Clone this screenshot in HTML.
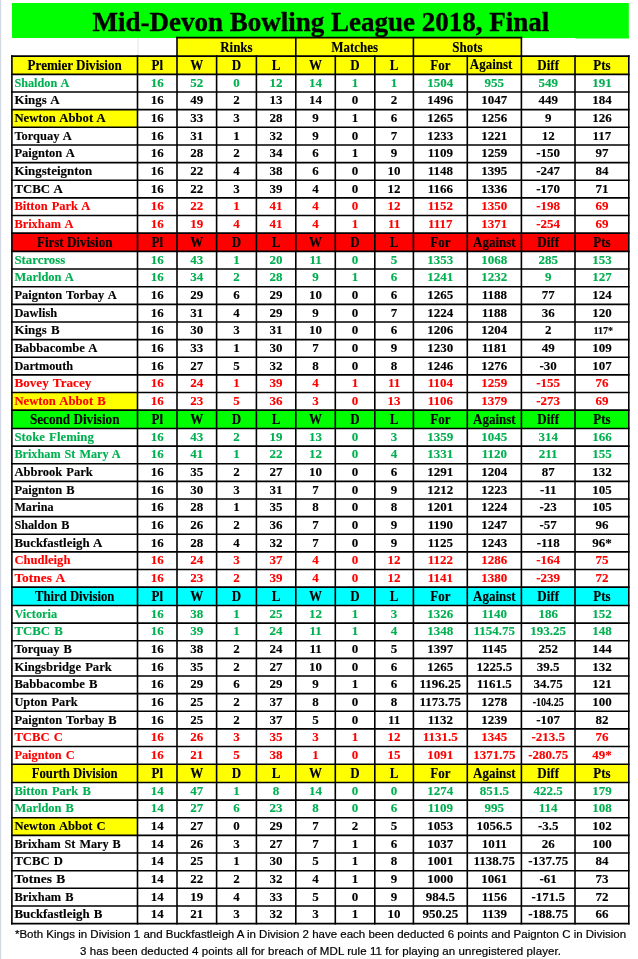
<!DOCTYPE html>
<html lang="en">
<head>
<meta charset="utf-8">
<title>Mid-Devon Bowling League 2018, Final</title>
<style>
html,body{margin:0;padding:0;background:#fff;}
body{width:638px;height:959px;position:relative;overflow:hidden;}
.note{position:absolute;left:12px;width:617px;top:926px;font-family:"Liberation Sans",Arial,sans-serif;font-size:11.5px;line-height:17px;letter-spacing:0;color:#000;text-align:center;white-space:nowrap;-webkit-text-stroke:0.2px #000;}
.note span{display:block;}
.note .l2{letter-spacing:0.07px;}
</style>
</head>
<body>
<svg width="638" height="959" viewBox="0 0 638 959" style="position:absolute;left:0;top:0" font-family="'Liberation Serif', 'Times New Roman', serif" font-weight="bold" font-size="13">
<rect x="0" y="0" width="1.2" height="959" fill="#d3d9e4"/>
<rect x="12" y="3" width="616.8" height="35" fill="#00FF00"/>
<rect x="575.5" y="36" width="53.3" height="2.5" fill="#00FF00"/>
<line x1="138" y1="38.5" x2="138" y2="55" stroke="#dfe4ec" stroke-width="1"/>
<rect x="11.9" y="56.1" width="616.9" height="18.3" fill="#FFFF00"/>
<rect x="11.9" y="109.67" width="125.6" height="17.64" fill="#FFFF00"/>
<rect x="11.9" y="233.12" width="616.9" height="18.3" fill="#FF0000"/>
<rect x="11.9" y="392.51" width="125.6" height="17.64" fill="#FFFF00"/>
<rect x="11.9" y="410.15" width="616.9" height="18.3" fill="#00FF00"/>
<rect x="11.9" y="587.17" width="616.9" height="18.3" fill="#00FFFF"/>
<rect x="11.9" y="764.2" width="616.9" height="18.3" fill="#FFFF00"/>
<rect x="11.9" y="817.77" width="125.6" height="17.64" fill="#FFFF00"/>
<rect x="177" y="37.6" width="118.8" height="18.5" fill="#FFFF00"/>
<rect x="295.8" y="37.6" width="117.6" height="18.5" fill="#FFFF00"/>
<rect x="413.4" y="37.6" width="108" height="18.5" fill="#FFFF00"/>
<g stroke="#000" stroke-width="1.6" stroke-linecap="butt">
<line x1="11.1" y1="56.1" x2="629.6" y2="56.1"/>
<line x1="11.1" y1="74.4" x2="629.6" y2="74.4"/>
<line x1="11.1" y1="92.04" x2="629.6" y2="92.04"/>
<line x1="11.1" y1="109.67" x2="629.6" y2="109.67"/>
<line x1="11.1" y1="127.31" x2="629.6" y2="127.31"/>
<line x1="11.1" y1="144.94" x2="629.6" y2="144.94"/>
<line x1="11.1" y1="162.58" x2="629.6" y2="162.58"/>
<line x1="11.1" y1="180.22" x2="629.6" y2="180.22"/>
<line x1="11.1" y1="197.85" x2="629.6" y2="197.85"/>
<line x1="11.1" y1="215.49" x2="629.6" y2="215.49"/>
<line x1="11.1" y1="233.12" x2="629.6" y2="233.12"/>
<line x1="11.1" y1="251.42" x2="629.6" y2="251.42"/>
<line x1="11.1" y1="269.06" x2="629.6" y2="269.06"/>
<line x1="11.1" y1="286.7" x2="629.6" y2="286.7"/>
<line x1="11.1" y1="304.33" x2="629.6" y2="304.33"/>
<line x1="11.1" y1="321.97" x2="629.6" y2="321.97"/>
<line x1="11.1" y1="339.6" x2="629.6" y2="339.6"/>
<line x1="11.1" y1="357.24" x2="629.6" y2="357.24"/>
<line x1="11.1" y1="374.88" x2="629.6" y2="374.88"/>
<line x1="11.1" y1="392.51" x2="629.6" y2="392.51"/>
<line x1="11.1" y1="410.15" x2="629.6" y2="410.15"/>
<line x1="11.1" y1="428.45" x2="629.6" y2="428.45"/>
<line x1="11.1" y1="446.08" x2="629.6" y2="446.08"/>
<line x1="11.1" y1="463.72" x2="629.6" y2="463.72"/>
<line x1="11.1" y1="481.36" x2="629.6" y2="481.36"/>
<line x1="11.1" y1="498.99" x2="629.6" y2="498.99"/>
<line x1="11.1" y1="516.63" x2="629.6" y2="516.63"/>
<line x1="11.1" y1="534.26" x2="629.6" y2="534.26"/>
<line x1="11.1" y1="551.9" x2="629.6" y2="551.9"/>
<line x1="11.1" y1="569.54" x2="629.6" y2="569.54"/>
<line x1="11.1" y1="587.17" x2="629.6" y2="587.17"/>
<line x1="11.1" y1="605.47" x2="629.6" y2="605.47"/>
<line x1="11.1" y1="623.11" x2="629.6" y2="623.11"/>
<line x1="11.1" y1="640.74" x2="629.6" y2="640.74"/>
<line x1="11.1" y1="658.38" x2="629.6" y2="658.38"/>
<line x1="11.1" y1="676.02" x2="629.6" y2="676.02"/>
<line x1="11.1" y1="693.65" x2="629.6" y2="693.65"/>
<line x1="11.1" y1="711.29" x2="629.6" y2="711.29"/>
<line x1="11.1" y1="728.92" x2="629.6" y2="728.92"/>
<line x1="11.1" y1="746.56" x2="629.6" y2="746.56"/>
<line x1="11.1" y1="764.2" x2="629.6" y2="764.2"/>
<line x1="11.1" y1="782.5" x2="629.6" y2="782.5"/>
<line x1="11.1" y1="800.13" x2="629.6" y2="800.13"/>
<line x1="11.1" y1="817.77" x2="629.6" y2="817.77"/>
<line x1="11.1" y1="835.4" x2="629.6" y2="835.4"/>
<line x1="11.1" y1="853.04" x2="629.6" y2="853.04"/>
<line x1="11.1" y1="870.68" x2="629.6" y2="870.68"/>
<line x1="11.1" y1="888.31" x2="629.6" y2="888.31"/>
<line x1="11.1" y1="905.95" x2="629.6" y2="905.95"/>
<line x1="11.1" y1="923.58" x2="629.6" y2="923.58"/>
<line x1="11.9" y1="55.3" x2="11.9" y2="924.38"/>
<line x1="137.5" y1="55.3" x2="137.5" y2="924.38"/>
<line x1="177" y1="55.3" x2="177" y2="924.38"/>
<line x1="216.6" y1="55.3" x2="216.6" y2="924.38"/>
<line x1="256.4" y1="55.3" x2="256.4" y2="924.38"/>
<line x1="295.8" y1="55.3" x2="295.8" y2="924.38"/>
<line x1="335.3" y1="55.3" x2="335.3" y2="924.38"/>
<line x1="374.8" y1="55.3" x2="374.8" y2="924.38"/>
<line x1="413.4" y1="55.3" x2="413.4" y2="924.38"/>
<line x1="467.3" y1="55.3" x2="467.3" y2="924.38"/>
<line x1="521.4" y1="55.3" x2="521.4" y2="924.38"/>
<line x1="575" y1="55.3" x2="575" y2="924.38"/>
<line x1="628.8" y1="55.3" x2="628.8" y2="924.38"/>
<line x1="176.2" y1="37.6" x2="522.2" y2="37.6"/>
<line x1="177" y1="36.8" x2="177" y2="56.1"/>
<line x1="295.8" y1="36.8" x2="295.8" y2="56.1"/>
<line x1="413.4" y1="36.8" x2="413.4" y2="56.1"/>
<line x1="521.4" y1="36.8" x2="521.4" y2="56.1"/>
</g>
<text x="320.8" y="30.7" text-anchor="middle" font-size="27" stroke="#000" stroke-width="0.35">Mid-Devon Bowling League 2018, Final</text>
<g stroke="#000" stroke-width="0.12">
<text x="74.7" y="70" text-anchor="middle" font-size="13.8" textLength="94.20" lengthAdjust="spacingAndGlyphs">Premier Division</text>
<text x="157.25" y="70" text-anchor="middle" font-size="13.8" textLength="11.56" lengthAdjust="spacingAndGlyphs">Pl</text>
<text x="196.8" y="70" text-anchor="middle" font-size="13.8" textLength="13.00" lengthAdjust="spacingAndGlyphs">W</text>
<text x="236.5" y="70" text-anchor="middle" font-size="13.8" textLength="9.39" lengthAdjust="spacingAndGlyphs">D</text>
<text x="276.1" y="70" text-anchor="middle" font-size="13.8" textLength="8.67" lengthAdjust="spacingAndGlyphs">L</text>
<text x="315.55" y="70" text-anchor="middle" font-size="13.8" textLength="13.00" lengthAdjust="spacingAndGlyphs">W</text>
<text x="355.05" y="70" text-anchor="middle" font-size="13.8" textLength="9.39" lengthAdjust="spacingAndGlyphs">D</text>
<text x="394.1" y="70" text-anchor="middle" font-size="13.8" textLength="8.67" lengthAdjust="spacingAndGlyphs">L</text>
<text x="440.35" y="70" text-anchor="middle" font-size="13.8" textLength="20.22" lengthAdjust="spacingAndGlyphs">For</text>
<text x="491.1" y="68.7" text-anchor="middle" font-size="13.8" textLength="42.62" lengthAdjust="spacingAndGlyphs">Against</text>
<text x="548.2" y="70" text-anchor="middle" font-size="13.8" textLength="21.67" lengthAdjust="spacingAndGlyphs">Diff</text>
<text x="601.9" y="70" text-anchor="middle" font-size="13.8" textLength="17.34" lengthAdjust="spacingAndGlyphs">Pts</text>
<text x="14.4" y="86.7" fill="#00B050" stroke="#00B050" font-size="13.3" textLength="55.00" lengthAdjust="spacingAndGlyphs" word-spacing="1">Shaldon A</text>
<text x="157.25" y="86.7" text-anchor="middle" fill="#00B050" stroke="#00B050" font-size="13.3" textLength="13.00" lengthAdjust="spacingAndGlyphs">16</text>
<text x="196.8" y="86.7" text-anchor="middle" fill="#00B050" stroke="#00B050" font-size="13.3" textLength="13.00" lengthAdjust="spacingAndGlyphs">52</text>
<text x="236.5" y="86.7" text-anchor="middle" fill="#00B050" stroke="#00B050" font-size="13.3" textLength="6.50" lengthAdjust="spacingAndGlyphs">0</text>
<text x="276.1" y="86.7" text-anchor="middle" fill="#00B050" stroke="#00B050" font-size="13.3" textLength="13.00" lengthAdjust="spacingAndGlyphs">12</text>
<text x="315.55" y="86.7" text-anchor="middle" fill="#00B050" stroke="#00B050" font-size="13.3" textLength="13.00" lengthAdjust="spacingAndGlyphs">14</text>
<text x="355.05" y="86.7" text-anchor="middle" fill="#00B050" stroke="#00B050" font-size="13.3" textLength="6.50" lengthAdjust="spacingAndGlyphs">1</text>
<text x="394.1" y="86.7" text-anchor="middle" fill="#00B050" stroke="#00B050" font-size="13.3" textLength="6.50" lengthAdjust="spacingAndGlyphs">1</text>
<text x="440.35" y="86.7" text-anchor="middle" fill="#00B050" stroke="#00B050" font-size="13.3" textLength="26.00" lengthAdjust="spacingAndGlyphs">1504</text>
<text x="494.35" y="86.7" text-anchor="middle" fill="#00B050" stroke="#00B050" font-size="13.3" textLength="19.50" lengthAdjust="spacingAndGlyphs">955</text>
<text x="548.2" y="86.7" text-anchor="middle" fill="#00B050" stroke="#00B050" font-size="13.3" textLength="19.50" lengthAdjust="spacingAndGlyphs">549</text>
<text x="601.9" y="86.7" text-anchor="middle" fill="#00B050" stroke="#00B050" font-size="13.3" textLength="19.50" lengthAdjust="spacingAndGlyphs">191</text>
<text x="14.4" y="104.34" font-size="13.3" textLength="45.20" lengthAdjust="spacingAndGlyphs" word-spacing="1">Kings A</text>
<text x="157.25" y="104.34" text-anchor="middle" font-size="13.3" textLength="13.00" lengthAdjust="spacingAndGlyphs">16</text>
<text x="196.8" y="104.34" text-anchor="middle" font-size="13.3" textLength="13.00" lengthAdjust="spacingAndGlyphs">49</text>
<text x="236.5" y="104.34" text-anchor="middle" font-size="13.3" textLength="6.50" lengthAdjust="spacingAndGlyphs">2</text>
<text x="276.1" y="104.34" text-anchor="middle" font-size="13.3" textLength="13.00" lengthAdjust="spacingAndGlyphs">13</text>
<text x="315.55" y="104.34" text-anchor="middle" font-size="13.3" textLength="13.00" lengthAdjust="spacingAndGlyphs">14</text>
<text x="355.05" y="104.34" text-anchor="middle" font-size="13.3" textLength="6.50" lengthAdjust="spacingAndGlyphs">0</text>
<text x="394.1" y="104.34" text-anchor="middle" font-size="13.3" textLength="6.50" lengthAdjust="spacingAndGlyphs">2</text>
<text x="440.35" y="104.34" text-anchor="middle" font-size="13.3" textLength="26.00" lengthAdjust="spacingAndGlyphs">1496</text>
<text x="494.35" y="104.34" text-anchor="middle" font-size="13.3" textLength="26.00" lengthAdjust="spacingAndGlyphs">1047</text>
<text x="548.2" y="104.34" text-anchor="middle" font-size="13.3" textLength="19.50" lengthAdjust="spacingAndGlyphs">449</text>
<text x="601.9" y="104.34" text-anchor="middle" font-size="13.3" textLength="19.50" lengthAdjust="spacingAndGlyphs">184</text>
<text x="14.4" y="121.97" font-size="13.3" textLength="91.30" lengthAdjust="spacingAndGlyphs" word-spacing="1">Newton Abbot A</text>
<text x="157.25" y="121.97" text-anchor="middle" font-size="13.3" textLength="13.00" lengthAdjust="spacingAndGlyphs">16</text>
<text x="196.8" y="121.97" text-anchor="middle" font-size="13.3" textLength="13.00" lengthAdjust="spacingAndGlyphs">33</text>
<text x="236.5" y="121.97" text-anchor="middle" font-size="13.3" textLength="6.50" lengthAdjust="spacingAndGlyphs">3</text>
<text x="276.1" y="121.97" text-anchor="middle" font-size="13.3" textLength="13.00" lengthAdjust="spacingAndGlyphs">28</text>
<text x="315.55" y="121.97" text-anchor="middle" font-size="13.3" textLength="6.50" lengthAdjust="spacingAndGlyphs">9</text>
<text x="355.05" y="121.97" text-anchor="middle" font-size="13.3" textLength="6.50" lengthAdjust="spacingAndGlyphs">1</text>
<text x="394.1" y="121.97" text-anchor="middle" font-size="13.3" textLength="6.50" lengthAdjust="spacingAndGlyphs">6</text>
<text x="440.35" y="121.97" text-anchor="middle" font-size="13.3" textLength="26.00" lengthAdjust="spacingAndGlyphs">1265</text>
<text x="494.35" y="121.97" text-anchor="middle" font-size="13.3" textLength="26.00" lengthAdjust="spacingAndGlyphs">1256</text>
<text x="548.2" y="121.97" text-anchor="middle" font-size="13.3" textLength="6.50" lengthAdjust="spacingAndGlyphs">9</text>
<text x="601.9" y="121.97" text-anchor="middle" font-size="13.3" textLength="19.50" lengthAdjust="spacingAndGlyphs">126</text>
<text x="14.4" y="139.61" font-size="13.3" textLength="57.40" lengthAdjust="spacingAndGlyphs" word-spacing="1">Torquay A</text>
<text x="157.25" y="139.61" text-anchor="middle" font-size="13.3" textLength="13.00" lengthAdjust="spacingAndGlyphs">16</text>
<text x="196.8" y="139.61" text-anchor="middle" font-size="13.3" textLength="13.00" lengthAdjust="spacingAndGlyphs">31</text>
<text x="236.5" y="139.61" text-anchor="middle" font-size="13.3" textLength="6.50" lengthAdjust="spacingAndGlyphs">1</text>
<text x="276.1" y="139.61" text-anchor="middle" font-size="13.3" textLength="13.00" lengthAdjust="spacingAndGlyphs">32</text>
<text x="315.55" y="139.61" text-anchor="middle" font-size="13.3" textLength="6.50" lengthAdjust="spacingAndGlyphs">9</text>
<text x="355.05" y="139.61" text-anchor="middle" font-size="13.3" textLength="6.50" lengthAdjust="spacingAndGlyphs">0</text>
<text x="394.1" y="139.61" text-anchor="middle" font-size="13.3" textLength="6.50" lengthAdjust="spacingAndGlyphs">7</text>
<text x="440.35" y="139.61" text-anchor="middle" font-size="13.3" textLength="26.00" lengthAdjust="spacingAndGlyphs">1233</text>
<text x="494.35" y="139.61" text-anchor="middle" font-size="13.3" textLength="26.00" lengthAdjust="spacingAndGlyphs">1221</text>
<text x="548.2" y="139.61" text-anchor="middle" font-size="13.3" textLength="13.00" lengthAdjust="spacingAndGlyphs">12</text>
<text x="601.9" y="139.61" text-anchor="middle" font-size="13.3" textLength="18.80" lengthAdjust="spacingAndGlyphs">117</text>
<text x="14.4" y="157.24" font-size="13.3" textLength="60.30" lengthAdjust="spacingAndGlyphs" word-spacing="1">Paignton A</text>
<text x="157.25" y="157.24" text-anchor="middle" font-size="13.3" textLength="13.00" lengthAdjust="spacingAndGlyphs">16</text>
<text x="196.8" y="157.24" text-anchor="middle" font-size="13.3" textLength="13.00" lengthAdjust="spacingAndGlyphs">28</text>
<text x="236.5" y="157.24" text-anchor="middle" font-size="13.3" textLength="6.50" lengthAdjust="spacingAndGlyphs">2</text>
<text x="276.1" y="157.24" text-anchor="middle" font-size="13.3" textLength="13.00" lengthAdjust="spacingAndGlyphs">34</text>
<text x="315.55" y="157.24" text-anchor="middle" font-size="13.3" textLength="6.50" lengthAdjust="spacingAndGlyphs">6</text>
<text x="355.05" y="157.24" text-anchor="middle" font-size="13.3" textLength="6.50" lengthAdjust="spacingAndGlyphs">1</text>
<text x="394.1" y="157.24" text-anchor="middle" font-size="13.3" textLength="6.50" lengthAdjust="spacingAndGlyphs">9</text>
<text x="440.35" y="157.24" text-anchor="middle" font-size="13.3" textLength="25.30" lengthAdjust="spacingAndGlyphs">1109</text>
<text x="494.35" y="157.24" text-anchor="middle" font-size="13.3" textLength="26.00" lengthAdjust="spacingAndGlyphs">1259</text>
<text x="548.2" y="157.24" text-anchor="middle" font-size="13.3" textLength="23.84" lengthAdjust="spacingAndGlyphs">-150</text>
<text x="601.9" y="157.24" text-anchor="middle" font-size="13.3" textLength="13.00" lengthAdjust="spacingAndGlyphs">97</text>
<text x="14.4" y="174.88" font-size="13.3" textLength="77.80" lengthAdjust="spacingAndGlyphs" word-spacing="1">Kingsteignton</text>
<text x="157.25" y="174.88" text-anchor="middle" font-size="13.3" textLength="13.00" lengthAdjust="spacingAndGlyphs">16</text>
<text x="196.8" y="174.88" text-anchor="middle" font-size="13.3" textLength="13.00" lengthAdjust="spacingAndGlyphs">22</text>
<text x="236.5" y="174.88" text-anchor="middle" font-size="13.3" textLength="6.50" lengthAdjust="spacingAndGlyphs">4</text>
<text x="276.1" y="174.88" text-anchor="middle" font-size="13.3" textLength="13.00" lengthAdjust="spacingAndGlyphs">38</text>
<text x="315.55" y="174.88" text-anchor="middle" font-size="13.3" textLength="6.50" lengthAdjust="spacingAndGlyphs">6</text>
<text x="355.05" y="174.88" text-anchor="middle" font-size="13.3" textLength="6.50" lengthAdjust="spacingAndGlyphs">0</text>
<text x="394.1" y="174.88" text-anchor="middle" font-size="13.3" textLength="13.00" lengthAdjust="spacingAndGlyphs">10</text>
<text x="440.35" y="174.88" text-anchor="middle" font-size="13.3" textLength="25.30" lengthAdjust="spacingAndGlyphs">1148</text>
<text x="494.35" y="174.88" text-anchor="middle" font-size="13.3" textLength="26.00" lengthAdjust="spacingAndGlyphs">1395</text>
<text x="548.2" y="174.88" text-anchor="middle" font-size="13.3" textLength="23.84" lengthAdjust="spacingAndGlyphs">-247</text>
<text x="601.9" y="174.88" text-anchor="middle" font-size="13.3" textLength="13.00" lengthAdjust="spacingAndGlyphs">84</text>
<text x="14.4" y="192.52" font-size="13.3" textLength="48.50" lengthAdjust="spacingAndGlyphs" word-spacing="1">TCBC A</text>
<text x="157.25" y="192.52" text-anchor="middle" font-size="13.3" textLength="13.00" lengthAdjust="spacingAndGlyphs">16</text>
<text x="196.8" y="192.52" text-anchor="middle" font-size="13.3" textLength="13.00" lengthAdjust="spacingAndGlyphs">22</text>
<text x="236.5" y="192.52" text-anchor="middle" font-size="13.3" textLength="6.50" lengthAdjust="spacingAndGlyphs">3</text>
<text x="276.1" y="192.52" text-anchor="middle" font-size="13.3" textLength="13.00" lengthAdjust="spacingAndGlyphs">39</text>
<text x="315.55" y="192.52" text-anchor="middle" font-size="13.3" textLength="6.50" lengthAdjust="spacingAndGlyphs">4</text>
<text x="355.05" y="192.52" text-anchor="middle" font-size="13.3" textLength="6.50" lengthAdjust="spacingAndGlyphs">0</text>
<text x="394.1" y="192.52" text-anchor="middle" font-size="13.3" textLength="13.00" lengthAdjust="spacingAndGlyphs">12</text>
<text x="440.35" y="192.52" text-anchor="middle" font-size="13.3" textLength="25.30" lengthAdjust="spacingAndGlyphs">1166</text>
<text x="494.35" y="192.52" text-anchor="middle" font-size="13.3" textLength="26.00" lengthAdjust="spacingAndGlyphs">1336</text>
<text x="548.2" y="192.52" text-anchor="middle" font-size="13.3" textLength="23.84" lengthAdjust="spacingAndGlyphs">-170</text>
<text x="601.9" y="192.52" text-anchor="middle" font-size="13.3" textLength="13.00" lengthAdjust="spacingAndGlyphs">71</text>
<text x="14.4" y="210.15" fill="#FF0000" stroke="#FF0000" font-size="13.3" textLength="76.00" lengthAdjust="spacingAndGlyphs" word-spacing="1">Bitton Park A</text>
<text x="157.25" y="210.15" text-anchor="middle" fill="#FF0000" stroke="#FF0000" font-size="13.3" textLength="13.00" lengthAdjust="spacingAndGlyphs">16</text>
<text x="196.8" y="210.15" text-anchor="middle" fill="#FF0000" stroke="#FF0000" font-size="13.3" textLength="13.00" lengthAdjust="spacingAndGlyphs">22</text>
<text x="236.5" y="210.15" text-anchor="middle" fill="#FF0000" stroke="#FF0000" font-size="13.3" textLength="6.50" lengthAdjust="spacingAndGlyphs">1</text>
<text x="276.1" y="210.15" text-anchor="middle" fill="#FF0000" stroke="#FF0000" font-size="13.3" textLength="13.00" lengthAdjust="spacingAndGlyphs">41</text>
<text x="315.55" y="210.15" text-anchor="middle" fill="#FF0000" stroke="#FF0000" font-size="13.3" textLength="6.50" lengthAdjust="spacingAndGlyphs">4</text>
<text x="355.05" y="210.15" text-anchor="middle" fill="#FF0000" stroke="#FF0000" font-size="13.3" textLength="6.50" lengthAdjust="spacingAndGlyphs">0</text>
<text x="394.1" y="210.15" text-anchor="middle" fill="#FF0000" stroke="#FF0000" font-size="13.3" textLength="13.00" lengthAdjust="spacingAndGlyphs">12</text>
<text x="440.35" y="210.15" text-anchor="middle" fill="#FF0000" stroke="#FF0000" font-size="13.3" textLength="25.30" lengthAdjust="spacingAndGlyphs">1152</text>
<text x="494.35" y="210.15" text-anchor="middle" fill="#FF0000" stroke="#FF0000" font-size="13.3" textLength="26.00" lengthAdjust="spacingAndGlyphs">1350</text>
<text x="548.2" y="210.15" text-anchor="middle" fill="#FF0000" stroke="#FF0000" font-size="13.3" textLength="23.84" lengthAdjust="spacingAndGlyphs">-198</text>
<text x="601.9" y="210.15" text-anchor="middle" fill="#FF0000" stroke="#FF0000" font-size="13.3" textLength="13.00" lengthAdjust="spacingAndGlyphs">69</text>
<text x="14.4" y="227.79" fill="#FF0000" stroke="#FF0000" font-size="13.3" textLength="59.10" lengthAdjust="spacingAndGlyphs" word-spacing="1">Brixham A</text>
<text x="157.25" y="227.79" text-anchor="middle" fill="#FF0000" stroke="#FF0000" font-size="13.3" textLength="13.00" lengthAdjust="spacingAndGlyphs">16</text>
<text x="196.8" y="227.79" text-anchor="middle" fill="#FF0000" stroke="#FF0000" font-size="13.3" textLength="13.00" lengthAdjust="spacingAndGlyphs">19</text>
<text x="236.5" y="227.79" text-anchor="middle" fill="#FF0000" stroke="#FF0000" font-size="13.3" textLength="6.50" lengthAdjust="spacingAndGlyphs">4</text>
<text x="276.1" y="227.79" text-anchor="middle" fill="#FF0000" stroke="#FF0000" font-size="13.3" textLength="13.00" lengthAdjust="spacingAndGlyphs">41</text>
<text x="315.55" y="227.79" text-anchor="middle" fill="#FF0000" stroke="#FF0000" font-size="13.3" textLength="6.50" lengthAdjust="spacingAndGlyphs">4</text>
<text x="355.05" y="227.79" text-anchor="middle" fill="#FF0000" stroke="#FF0000" font-size="13.3" textLength="6.50" lengthAdjust="spacingAndGlyphs">1</text>
<text x="394.1" y="227.79" text-anchor="middle" fill="#FF0000" stroke="#FF0000" font-size="13.3" textLength="12.30" lengthAdjust="spacingAndGlyphs">11</text>
<text x="440.35" y="227.79" text-anchor="middle" fill="#FF0000" stroke="#FF0000" font-size="13.3" textLength="24.58" lengthAdjust="spacingAndGlyphs">1117</text>
<text x="494.35" y="227.79" text-anchor="middle" fill="#FF0000" stroke="#FF0000" font-size="13.3" textLength="26.00" lengthAdjust="spacingAndGlyphs">1371</text>
<text x="548.2" y="227.79" text-anchor="middle" fill="#FF0000" stroke="#FF0000" font-size="13.3" textLength="23.84" lengthAdjust="spacingAndGlyphs">-254</text>
<text x="601.9" y="227.79" text-anchor="middle" fill="#FF0000" stroke="#FF0000" font-size="13.3" textLength="13.00" lengthAdjust="spacingAndGlyphs">69</text>
<text x="74.7" y="247.02" text-anchor="middle" font-size="13.8" textLength="75.40" lengthAdjust="spacingAndGlyphs">First Division</text>
<text x="157.25" y="247.02" text-anchor="middle" font-size="13.8" textLength="11.56" lengthAdjust="spacingAndGlyphs">Pl</text>
<text x="196.8" y="247.02" text-anchor="middle" font-size="13.8" textLength="13.00" lengthAdjust="spacingAndGlyphs">W</text>
<text x="236.5" y="247.02" text-anchor="middle" font-size="13.8" textLength="9.39" lengthAdjust="spacingAndGlyphs">D</text>
<text x="276.1" y="247.02" text-anchor="middle" font-size="13.8" textLength="8.67" lengthAdjust="spacingAndGlyphs">L</text>
<text x="315.55" y="247.02" text-anchor="middle" font-size="13.8" textLength="13.00" lengthAdjust="spacingAndGlyphs">W</text>
<text x="355.05" y="247.02" text-anchor="middle" font-size="13.8" textLength="9.39" lengthAdjust="spacingAndGlyphs">D</text>
<text x="394.1" y="247.02" text-anchor="middle" font-size="13.8" textLength="8.67" lengthAdjust="spacingAndGlyphs">L</text>
<text x="440.35" y="247.02" text-anchor="middle" font-size="13.8" textLength="20.22" lengthAdjust="spacingAndGlyphs">For</text>
<text x="494.35" y="247.02" text-anchor="middle" font-size="13.8" textLength="42.62" lengthAdjust="spacingAndGlyphs">Against</text>
<text x="548.2" y="247.02" text-anchor="middle" font-size="13.8" textLength="21.67" lengthAdjust="spacingAndGlyphs">Diff</text>
<text x="601.9" y="247.02" text-anchor="middle" font-size="13.8" textLength="17.34" lengthAdjust="spacingAndGlyphs">Pts</text>
<text x="14.4" y="263.72" fill="#00B050" stroke="#00B050" font-size="13.3" textLength="50.90" lengthAdjust="spacingAndGlyphs" word-spacing="1">Starcross</text>
<text x="157.25" y="263.72" text-anchor="middle" fill="#00B050" stroke="#00B050" font-size="13.3" textLength="13.00" lengthAdjust="spacingAndGlyphs">16</text>
<text x="196.8" y="263.72" text-anchor="middle" fill="#00B050" stroke="#00B050" font-size="13.3" textLength="13.00" lengthAdjust="spacingAndGlyphs">43</text>
<text x="236.5" y="263.72" text-anchor="middle" fill="#00B050" stroke="#00B050" font-size="13.3" textLength="6.50" lengthAdjust="spacingAndGlyphs">1</text>
<text x="276.1" y="263.72" text-anchor="middle" fill="#00B050" stroke="#00B050" font-size="13.3" textLength="13.00" lengthAdjust="spacingAndGlyphs">20</text>
<text x="315.55" y="263.72" text-anchor="middle" fill="#00B050" stroke="#00B050" font-size="13.3" textLength="12.30" lengthAdjust="spacingAndGlyphs">11</text>
<text x="355.05" y="263.72" text-anchor="middle" fill="#00B050" stroke="#00B050" font-size="13.3" textLength="6.50" lengthAdjust="spacingAndGlyphs">0</text>
<text x="394.1" y="263.72" text-anchor="middle" fill="#00B050" stroke="#00B050" font-size="13.3" textLength="6.50" lengthAdjust="spacingAndGlyphs">5</text>
<text x="440.35" y="263.72" text-anchor="middle" fill="#00B050" stroke="#00B050" font-size="13.3" textLength="26.00" lengthAdjust="spacingAndGlyphs">1353</text>
<text x="494.35" y="263.72" text-anchor="middle" fill="#00B050" stroke="#00B050" font-size="13.3" textLength="26.00" lengthAdjust="spacingAndGlyphs">1068</text>
<text x="548.2" y="263.72" text-anchor="middle" fill="#00B050" stroke="#00B050" font-size="13.3" textLength="19.50" lengthAdjust="spacingAndGlyphs">285</text>
<text x="601.9" y="263.72" text-anchor="middle" fill="#00B050" stroke="#00B050" font-size="13.3" textLength="19.50" lengthAdjust="spacingAndGlyphs">153</text>
<text x="14.4" y="281.36" fill="#00B050" stroke="#00B050" font-size="13.3" textLength="59.50" lengthAdjust="spacingAndGlyphs" word-spacing="1">Marldon A</text>
<text x="157.25" y="281.36" text-anchor="middle" fill="#00B050" stroke="#00B050" font-size="13.3" textLength="13.00" lengthAdjust="spacingAndGlyphs">16</text>
<text x="196.8" y="281.36" text-anchor="middle" fill="#00B050" stroke="#00B050" font-size="13.3" textLength="13.00" lengthAdjust="spacingAndGlyphs">34</text>
<text x="236.5" y="281.36" text-anchor="middle" fill="#00B050" stroke="#00B050" font-size="13.3" textLength="6.50" lengthAdjust="spacingAndGlyphs">2</text>
<text x="276.1" y="281.36" text-anchor="middle" fill="#00B050" stroke="#00B050" font-size="13.3" textLength="13.00" lengthAdjust="spacingAndGlyphs">28</text>
<text x="315.55" y="281.36" text-anchor="middle" fill="#00B050" stroke="#00B050" font-size="13.3" textLength="6.50" lengthAdjust="spacingAndGlyphs">9</text>
<text x="355.05" y="281.36" text-anchor="middle" fill="#00B050" stroke="#00B050" font-size="13.3" textLength="6.50" lengthAdjust="spacingAndGlyphs">1</text>
<text x="394.1" y="281.36" text-anchor="middle" fill="#00B050" stroke="#00B050" font-size="13.3" textLength="6.50" lengthAdjust="spacingAndGlyphs">6</text>
<text x="440.35" y="281.36" text-anchor="middle" fill="#00B050" stroke="#00B050" font-size="13.3" textLength="26.00" lengthAdjust="spacingAndGlyphs">1241</text>
<text x="494.35" y="281.36" text-anchor="middle" fill="#00B050" stroke="#00B050" font-size="13.3" textLength="26.00" lengthAdjust="spacingAndGlyphs">1232</text>
<text x="548.2" y="281.36" text-anchor="middle" fill="#00B050" stroke="#00B050" font-size="13.3" textLength="6.50" lengthAdjust="spacingAndGlyphs">9</text>
<text x="601.9" y="281.36" text-anchor="middle" fill="#00B050" stroke="#00B050" font-size="13.3" textLength="19.50" lengthAdjust="spacingAndGlyphs">127</text>
<text x="14.4" y="299" font-size="13.3" textLength="102.30" lengthAdjust="spacingAndGlyphs" word-spacing="1">Paignton Torbay A</text>
<text x="157.25" y="299" text-anchor="middle" font-size="13.3" textLength="13.00" lengthAdjust="spacingAndGlyphs">16</text>
<text x="196.8" y="299" text-anchor="middle" font-size="13.3" textLength="13.00" lengthAdjust="spacingAndGlyphs">29</text>
<text x="236.5" y="299" text-anchor="middle" font-size="13.3" textLength="6.50" lengthAdjust="spacingAndGlyphs">6</text>
<text x="276.1" y="299" text-anchor="middle" font-size="13.3" textLength="13.00" lengthAdjust="spacingAndGlyphs">29</text>
<text x="315.55" y="299" text-anchor="middle" font-size="13.3" textLength="13.00" lengthAdjust="spacingAndGlyphs">10</text>
<text x="355.05" y="299" text-anchor="middle" font-size="13.3" textLength="6.50" lengthAdjust="spacingAndGlyphs">0</text>
<text x="394.1" y="299" text-anchor="middle" font-size="13.3" textLength="6.50" lengthAdjust="spacingAndGlyphs">6</text>
<text x="440.35" y="299" text-anchor="middle" font-size="13.3" textLength="26.00" lengthAdjust="spacingAndGlyphs">1265</text>
<text x="494.35" y="299" text-anchor="middle" font-size="13.3" textLength="25.30" lengthAdjust="spacingAndGlyphs">1188</text>
<text x="548.2" y="299" text-anchor="middle" font-size="13.3" textLength="13.00" lengthAdjust="spacingAndGlyphs">77</text>
<text x="601.9" y="299" text-anchor="middle" font-size="13.3" textLength="19.50" lengthAdjust="spacingAndGlyphs">124</text>
<text x="14.4" y="316.63" font-size="13.3" textLength="42.80" lengthAdjust="spacingAndGlyphs" word-spacing="1">Dawlish</text>
<text x="157.25" y="316.63" text-anchor="middle" font-size="13.3" textLength="13.00" lengthAdjust="spacingAndGlyphs">16</text>
<text x="196.8" y="316.63" text-anchor="middle" font-size="13.3" textLength="13.00" lengthAdjust="spacingAndGlyphs">31</text>
<text x="236.5" y="316.63" text-anchor="middle" font-size="13.3" textLength="6.50" lengthAdjust="spacingAndGlyphs">4</text>
<text x="276.1" y="316.63" text-anchor="middle" font-size="13.3" textLength="13.00" lengthAdjust="spacingAndGlyphs">29</text>
<text x="315.55" y="316.63" text-anchor="middle" font-size="13.3" textLength="6.50" lengthAdjust="spacingAndGlyphs">9</text>
<text x="355.05" y="316.63" text-anchor="middle" font-size="13.3" textLength="6.50" lengthAdjust="spacingAndGlyphs">0</text>
<text x="394.1" y="316.63" text-anchor="middle" font-size="13.3" textLength="6.50" lengthAdjust="spacingAndGlyphs">7</text>
<text x="440.35" y="316.63" text-anchor="middle" font-size="13.3" textLength="26.00" lengthAdjust="spacingAndGlyphs">1224</text>
<text x="494.35" y="316.63" text-anchor="middle" font-size="13.3" textLength="25.30" lengthAdjust="spacingAndGlyphs">1188</text>
<text x="548.2" y="316.63" text-anchor="middle" font-size="13.3" textLength="13.00" lengthAdjust="spacingAndGlyphs">36</text>
<text x="601.9" y="316.63" text-anchor="middle" font-size="13.3" textLength="19.50" lengthAdjust="spacingAndGlyphs">120</text>
<text x="14.4" y="334.27" font-size="13.3" textLength="45.20" lengthAdjust="spacingAndGlyphs" word-spacing="1">Kings B</text>
<text x="157.25" y="334.27" text-anchor="middle" font-size="13.3" textLength="13.00" lengthAdjust="spacingAndGlyphs">16</text>
<text x="196.8" y="334.27" text-anchor="middle" font-size="13.3" textLength="13.00" lengthAdjust="spacingAndGlyphs">30</text>
<text x="236.5" y="334.27" text-anchor="middle" font-size="13.3" textLength="6.50" lengthAdjust="spacingAndGlyphs">3</text>
<text x="276.1" y="334.27" text-anchor="middle" font-size="13.3" textLength="13.00" lengthAdjust="spacingAndGlyphs">31</text>
<text x="315.55" y="334.27" text-anchor="middle" font-size="13.3" textLength="13.00" lengthAdjust="spacingAndGlyphs">10</text>
<text x="355.05" y="334.27" text-anchor="middle" font-size="13.3" textLength="6.50" lengthAdjust="spacingAndGlyphs">0</text>
<text x="394.1" y="334.27" text-anchor="middle" font-size="13.3" textLength="6.50" lengthAdjust="spacingAndGlyphs">6</text>
<text x="440.35" y="334.27" text-anchor="middle" font-size="13.3" textLength="26.00" lengthAdjust="spacingAndGlyphs">1206</text>
<text x="494.35" y="334.27" text-anchor="middle" font-size="13.3" textLength="26.00" lengthAdjust="spacingAndGlyphs">1204</text>
<text x="548.2" y="334.27" text-anchor="middle" font-size="13.3" textLength="6.50" lengthAdjust="spacingAndGlyphs">2</text>
<text x="603.3" y="334.27" text-anchor="middle" font-size="10" textLength="19.6" lengthAdjust="spacingAndGlyphs">117*</text>
<text x="14.4" y="351.9" font-size="13.3" textLength="83.10" lengthAdjust="spacingAndGlyphs" word-spacing="1">Babbacombe A</text>
<text x="157.25" y="351.9" text-anchor="middle" font-size="13.3" textLength="13.00" lengthAdjust="spacingAndGlyphs">16</text>
<text x="196.8" y="351.9" text-anchor="middle" font-size="13.3" textLength="13.00" lengthAdjust="spacingAndGlyphs">33</text>
<text x="236.5" y="351.9" text-anchor="middle" font-size="13.3" textLength="6.50" lengthAdjust="spacingAndGlyphs">1</text>
<text x="276.1" y="351.9" text-anchor="middle" font-size="13.3" textLength="13.00" lengthAdjust="spacingAndGlyphs">30</text>
<text x="315.55" y="351.9" text-anchor="middle" font-size="13.3" textLength="6.50" lengthAdjust="spacingAndGlyphs">7</text>
<text x="355.05" y="351.9" text-anchor="middle" font-size="13.3" textLength="6.50" lengthAdjust="spacingAndGlyphs">0</text>
<text x="394.1" y="351.9" text-anchor="middle" font-size="13.3" textLength="6.50" lengthAdjust="spacingAndGlyphs">9</text>
<text x="440.35" y="351.9" text-anchor="middle" font-size="13.3" textLength="26.00" lengthAdjust="spacingAndGlyphs">1230</text>
<text x="494.35" y="351.9" text-anchor="middle" font-size="13.3" textLength="25.30" lengthAdjust="spacingAndGlyphs">1181</text>
<text x="548.2" y="351.9" text-anchor="middle" font-size="13.3" textLength="13.00" lengthAdjust="spacingAndGlyphs">49</text>
<text x="601.9" y="351.9" text-anchor="middle" font-size="13.3" textLength="19.50" lengthAdjust="spacingAndGlyphs">109</text>
<text x="14.4" y="369.54" font-size="13.3" textLength="58.70" lengthAdjust="spacingAndGlyphs" word-spacing="1">Dartmouth</text>
<text x="157.25" y="369.54" text-anchor="middle" font-size="13.3" textLength="13.00" lengthAdjust="spacingAndGlyphs">16</text>
<text x="196.8" y="369.54" text-anchor="middle" font-size="13.3" textLength="13.00" lengthAdjust="spacingAndGlyphs">27</text>
<text x="236.5" y="369.54" text-anchor="middle" font-size="13.3" textLength="6.50" lengthAdjust="spacingAndGlyphs">5</text>
<text x="276.1" y="369.54" text-anchor="middle" font-size="13.3" textLength="13.00" lengthAdjust="spacingAndGlyphs">32</text>
<text x="315.55" y="369.54" text-anchor="middle" font-size="13.3" textLength="6.50" lengthAdjust="spacingAndGlyphs">8</text>
<text x="355.05" y="369.54" text-anchor="middle" font-size="13.3" textLength="6.50" lengthAdjust="spacingAndGlyphs">0</text>
<text x="394.1" y="369.54" text-anchor="middle" font-size="13.3" textLength="6.50" lengthAdjust="spacingAndGlyphs">8</text>
<text x="440.35" y="369.54" text-anchor="middle" font-size="13.3" textLength="26.00" lengthAdjust="spacingAndGlyphs">1246</text>
<text x="494.35" y="369.54" text-anchor="middle" font-size="13.3" textLength="26.00" lengthAdjust="spacingAndGlyphs">1276</text>
<text x="548.2" y="369.54" text-anchor="middle" font-size="13.3" textLength="17.34" lengthAdjust="spacingAndGlyphs">-30</text>
<text x="601.9" y="369.54" text-anchor="middle" font-size="13.3" textLength="19.50" lengthAdjust="spacingAndGlyphs">107</text>
<text x="14.4" y="387.18" fill="#FF0000" stroke="#FF0000" font-size="13.3" textLength="77.00" lengthAdjust="spacingAndGlyphs" word-spacing="1">Bovey Tracey</text>
<text x="157.25" y="387.18" text-anchor="middle" fill="#FF0000" stroke="#FF0000" font-size="13.3" textLength="13.00" lengthAdjust="spacingAndGlyphs">16</text>
<text x="196.8" y="387.18" text-anchor="middle" fill="#FF0000" stroke="#FF0000" font-size="13.3" textLength="13.00" lengthAdjust="spacingAndGlyphs">24</text>
<text x="236.5" y="387.18" text-anchor="middle" fill="#FF0000" stroke="#FF0000" font-size="13.3" textLength="6.50" lengthAdjust="spacingAndGlyphs">1</text>
<text x="276.1" y="387.18" text-anchor="middle" fill="#FF0000" stroke="#FF0000" font-size="13.3" textLength="13.00" lengthAdjust="spacingAndGlyphs">39</text>
<text x="315.55" y="387.18" text-anchor="middle" fill="#FF0000" stroke="#FF0000" font-size="13.3" textLength="6.50" lengthAdjust="spacingAndGlyphs">4</text>
<text x="355.05" y="387.18" text-anchor="middle" fill="#FF0000" stroke="#FF0000" font-size="13.3" textLength="6.50" lengthAdjust="spacingAndGlyphs">1</text>
<text x="394.1" y="387.18" text-anchor="middle" fill="#FF0000" stroke="#FF0000" font-size="13.3" textLength="12.30" lengthAdjust="spacingAndGlyphs">11</text>
<text x="440.35" y="387.18" text-anchor="middle" fill="#FF0000" stroke="#FF0000" font-size="13.3" textLength="25.30" lengthAdjust="spacingAndGlyphs">1104</text>
<text x="494.35" y="387.18" text-anchor="middle" fill="#FF0000" stroke="#FF0000" font-size="13.3" textLength="26.00" lengthAdjust="spacingAndGlyphs">1259</text>
<text x="548.2" y="387.18" text-anchor="middle" fill="#FF0000" stroke="#FF0000" font-size="13.3" textLength="23.84" lengthAdjust="spacingAndGlyphs">-155</text>
<text x="601.9" y="387.18" text-anchor="middle" fill="#FF0000" stroke="#FF0000" font-size="13.3" textLength="13.00" lengthAdjust="spacingAndGlyphs">76</text>
<text x="14.4" y="404.81" fill="#FF0000" stroke="#FF0000" font-size="13.3" textLength="91.30" lengthAdjust="spacingAndGlyphs" word-spacing="1">Newton Abbot B</text>
<text x="157.25" y="404.81" text-anchor="middle" fill="#FF0000" stroke="#FF0000" font-size="13.3" textLength="13.00" lengthAdjust="spacingAndGlyphs">16</text>
<text x="196.8" y="404.81" text-anchor="middle" fill="#FF0000" stroke="#FF0000" font-size="13.3" textLength="13.00" lengthAdjust="spacingAndGlyphs">23</text>
<text x="236.5" y="404.81" text-anchor="middle" fill="#FF0000" stroke="#FF0000" font-size="13.3" textLength="6.50" lengthAdjust="spacingAndGlyphs">5</text>
<text x="276.1" y="404.81" text-anchor="middle" fill="#FF0000" stroke="#FF0000" font-size="13.3" textLength="13.00" lengthAdjust="spacingAndGlyphs">36</text>
<text x="315.55" y="404.81" text-anchor="middle" fill="#FF0000" stroke="#FF0000" font-size="13.3" textLength="6.50" lengthAdjust="spacingAndGlyphs">3</text>
<text x="355.05" y="404.81" text-anchor="middle" fill="#FF0000" stroke="#FF0000" font-size="13.3" textLength="6.50" lengthAdjust="spacingAndGlyphs">0</text>
<text x="394.1" y="404.81" text-anchor="middle" fill="#FF0000" stroke="#FF0000" font-size="13.3" textLength="13.00" lengthAdjust="spacingAndGlyphs">13</text>
<text x="440.35" y="404.81" text-anchor="middle" fill="#FF0000" stroke="#FF0000" font-size="13.3" textLength="25.30" lengthAdjust="spacingAndGlyphs">1106</text>
<text x="494.35" y="404.81" text-anchor="middle" fill="#FF0000" stroke="#FF0000" font-size="13.3" textLength="26.00" lengthAdjust="spacingAndGlyphs">1379</text>
<text x="548.2" y="404.81" text-anchor="middle" fill="#FF0000" stroke="#FF0000" font-size="13.3" textLength="23.84" lengthAdjust="spacingAndGlyphs">-273</text>
<text x="601.9" y="404.81" text-anchor="middle" fill="#FF0000" stroke="#FF0000" font-size="13.3" textLength="13.00" lengthAdjust="spacingAndGlyphs">69</text>
<text x="74.7" y="424.05" text-anchor="middle" font-size="13.8" textLength="89.60" lengthAdjust="spacingAndGlyphs">Second Division</text>
<text x="157.25" y="424.05" text-anchor="middle" font-size="13.8" textLength="11.56" lengthAdjust="spacingAndGlyphs">Pl</text>
<text x="196.8" y="424.05" text-anchor="middle" font-size="13.8" textLength="13.00" lengthAdjust="spacingAndGlyphs">W</text>
<text x="236.5" y="424.05" text-anchor="middle" font-size="13.8" textLength="9.39" lengthAdjust="spacingAndGlyphs">D</text>
<text x="276.1" y="424.05" text-anchor="middle" font-size="13.8" textLength="8.67" lengthAdjust="spacingAndGlyphs">L</text>
<text x="315.55" y="424.05" text-anchor="middle" font-size="13.8" textLength="13.00" lengthAdjust="spacingAndGlyphs">W</text>
<text x="355.05" y="424.05" text-anchor="middle" font-size="13.8" textLength="9.39" lengthAdjust="spacingAndGlyphs">D</text>
<text x="394.1" y="424.05" text-anchor="middle" font-size="13.8" textLength="8.67" lengthAdjust="spacingAndGlyphs">L</text>
<text x="440.35" y="424.05" text-anchor="middle" font-size="13.8" textLength="20.22" lengthAdjust="spacingAndGlyphs">For</text>
<text x="494.35" y="424.05" text-anchor="middle" font-size="13.8" textLength="42.62" lengthAdjust="spacingAndGlyphs">Against</text>
<text x="548.2" y="424.05" text-anchor="middle" font-size="13.8" textLength="21.67" lengthAdjust="spacingAndGlyphs">Diff</text>
<text x="601.9" y="424.05" text-anchor="middle" font-size="13.8" textLength="17.34" lengthAdjust="spacingAndGlyphs">Pts</text>
<text x="14.4" y="440.75" fill="#00B050" stroke="#00B050" font-size="13.3" textLength="79.50" lengthAdjust="spacingAndGlyphs" word-spacing="1">Stoke Fleming</text>
<text x="157.25" y="440.75" text-anchor="middle" fill="#00B050" stroke="#00B050" font-size="13.3" textLength="13.00" lengthAdjust="spacingAndGlyphs">16</text>
<text x="196.8" y="440.75" text-anchor="middle" fill="#00B050" stroke="#00B050" font-size="13.3" textLength="13.00" lengthAdjust="spacingAndGlyphs">43</text>
<text x="236.5" y="440.75" text-anchor="middle" fill="#00B050" stroke="#00B050" font-size="13.3" textLength="6.50" lengthAdjust="spacingAndGlyphs">2</text>
<text x="276.1" y="440.75" text-anchor="middle" fill="#00B050" stroke="#00B050" font-size="13.3" textLength="13.00" lengthAdjust="spacingAndGlyphs">19</text>
<text x="315.55" y="440.75" text-anchor="middle" fill="#00B050" stroke="#00B050" font-size="13.3" textLength="13.00" lengthAdjust="spacingAndGlyphs">13</text>
<text x="355.05" y="440.75" text-anchor="middle" fill="#00B050" stroke="#00B050" font-size="13.3" textLength="6.50" lengthAdjust="spacingAndGlyphs">0</text>
<text x="394.1" y="440.75" text-anchor="middle" fill="#00B050" stroke="#00B050" font-size="13.3" textLength="6.50" lengthAdjust="spacingAndGlyphs">3</text>
<text x="440.35" y="440.75" text-anchor="middle" fill="#00B050" stroke="#00B050" font-size="13.3" textLength="26.00" lengthAdjust="spacingAndGlyphs">1359</text>
<text x="494.35" y="440.75" text-anchor="middle" fill="#00B050" stroke="#00B050" font-size="13.3" textLength="26.00" lengthAdjust="spacingAndGlyphs">1045</text>
<text x="548.2" y="440.75" text-anchor="middle" fill="#00B050" stroke="#00B050" font-size="13.3" textLength="19.50" lengthAdjust="spacingAndGlyphs">314</text>
<text x="601.9" y="440.75" text-anchor="middle" fill="#00B050" stroke="#00B050" font-size="13.3" textLength="19.50" lengthAdjust="spacingAndGlyphs">166</text>
<text x="14.4" y="458.38" fill="#00B050" stroke="#00B050" font-size="13.3" textLength="106.30" lengthAdjust="spacingAndGlyphs" word-spacing="1">Brixham St Mary A</text>
<text x="157.25" y="458.38" text-anchor="middle" fill="#00B050" stroke="#00B050" font-size="13.3" textLength="13.00" lengthAdjust="spacingAndGlyphs">16</text>
<text x="196.8" y="458.38" text-anchor="middle" fill="#00B050" stroke="#00B050" font-size="13.3" textLength="13.00" lengthAdjust="spacingAndGlyphs">41</text>
<text x="236.5" y="458.38" text-anchor="middle" fill="#00B050" stroke="#00B050" font-size="13.3" textLength="6.50" lengthAdjust="spacingAndGlyphs">1</text>
<text x="276.1" y="458.38" text-anchor="middle" fill="#00B050" stroke="#00B050" font-size="13.3" textLength="13.00" lengthAdjust="spacingAndGlyphs">22</text>
<text x="315.55" y="458.38" text-anchor="middle" fill="#00B050" stroke="#00B050" font-size="13.3" textLength="13.00" lengthAdjust="spacingAndGlyphs">12</text>
<text x="355.05" y="458.38" text-anchor="middle" fill="#00B050" stroke="#00B050" font-size="13.3" textLength="6.50" lengthAdjust="spacingAndGlyphs">0</text>
<text x="394.1" y="458.38" text-anchor="middle" fill="#00B050" stroke="#00B050" font-size="13.3" textLength="6.50" lengthAdjust="spacingAndGlyphs">4</text>
<text x="440.35" y="458.38" text-anchor="middle" fill="#00B050" stroke="#00B050" font-size="13.3" textLength="26.00" lengthAdjust="spacingAndGlyphs">1331</text>
<text x="494.35" y="458.38" text-anchor="middle" fill="#00B050" stroke="#00B050" font-size="13.3" textLength="25.30" lengthAdjust="spacingAndGlyphs">1120</text>
<text x="548.2" y="458.38" text-anchor="middle" fill="#00B050" stroke="#00B050" font-size="13.3" textLength="18.80" lengthAdjust="spacingAndGlyphs">211</text>
<text x="601.9" y="458.38" text-anchor="middle" fill="#00B050" stroke="#00B050" font-size="13.3" textLength="19.50" lengthAdjust="spacingAndGlyphs">155</text>
<text x="14.4" y="476.02" font-size="13.3" textLength="78.40" lengthAdjust="spacingAndGlyphs" word-spacing="1">Abbrook Park</text>
<text x="157.25" y="476.02" text-anchor="middle" font-size="13.3" textLength="13.00" lengthAdjust="spacingAndGlyphs">16</text>
<text x="196.8" y="476.02" text-anchor="middle" font-size="13.3" textLength="13.00" lengthAdjust="spacingAndGlyphs">35</text>
<text x="236.5" y="476.02" text-anchor="middle" font-size="13.3" textLength="6.50" lengthAdjust="spacingAndGlyphs">2</text>
<text x="276.1" y="476.02" text-anchor="middle" font-size="13.3" textLength="13.00" lengthAdjust="spacingAndGlyphs">27</text>
<text x="315.55" y="476.02" text-anchor="middle" font-size="13.3" textLength="13.00" lengthAdjust="spacingAndGlyphs">10</text>
<text x="355.05" y="476.02" text-anchor="middle" font-size="13.3" textLength="6.50" lengthAdjust="spacingAndGlyphs">0</text>
<text x="394.1" y="476.02" text-anchor="middle" font-size="13.3" textLength="6.50" lengthAdjust="spacingAndGlyphs">6</text>
<text x="440.35" y="476.02" text-anchor="middle" font-size="13.3" textLength="26.00" lengthAdjust="spacingAndGlyphs">1291</text>
<text x="494.35" y="476.02" text-anchor="middle" font-size="13.3" textLength="26.00" lengthAdjust="spacingAndGlyphs">1204</text>
<text x="548.2" y="476.02" text-anchor="middle" font-size="13.3" textLength="13.00" lengthAdjust="spacingAndGlyphs">87</text>
<text x="601.9" y="476.02" text-anchor="middle" font-size="13.3" textLength="19.50" lengthAdjust="spacingAndGlyphs">132</text>
<text x="14.4" y="493.66" font-size="13.3" textLength="60.30" lengthAdjust="spacingAndGlyphs" word-spacing="1">Paignton B</text>
<text x="157.25" y="493.66" text-anchor="middle" font-size="13.3" textLength="13.00" lengthAdjust="spacingAndGlyphs">16</text>
<text x="196.8" y="493.66" text-anchor="middle" font-size="13.3" textLength="13.00" lengthAdjust="spacingAndGlyphs">30</text>
<text x="236.5" y="493.66" text-anchor="middle" font-size="13.3" textLength="6.50" lengthAdjust="spacingAndGlyphs">3</text>
<text x="276.1" y="493.66" text-anchor="middle" font-size="13.3" textLength="13.00" lengthAdjust="spacingAndGlyphs">31</text>
<text x="315.55" y="493.66" text-anchor="middle" font-size="13.3" textLength="6.50" lengthAdjust="spacingAndGlyphs">7</text>
<text x="355.05" y="493.66" text-anchor="middle" font-size="13.3" textLength="6.50" lengthAdjust="spacingAndGlyphs">0</text>
<text x="394.1" y="493.66" text-anchor="middle" font-size="13.3" textLength="6.50" lengthAdjust="spacingAndGlyphs">9</text>
<text x="440.35" y="493.66" text-anchor="middle" font-size="13.3" textLength="26.00" lengthAdjust="spacingAndGlyphs">1212</text>
<text x="494.35" y="493.66" text-anchor="middle" font-size="13.3" textLength="26.00" lengthAdjust="spacingAndGlyphs">1223</text>
<text x="548.2" y="493.66" text-anchor="middle" font-size="13.3" textLength="16.62" lengthAdjust="spacingAndGlyphs">-11</text>
<text x="601.9" y="493.66" text-anchor="middle" font-size="13.3" textLength="19.50" lengthAdjust="spacingAndGlyphs">105</text>
<text x="14.4" y="511.29" font-size="13.3" textLength="39.10" lengthAdjust="spacingAndGlyphs" word-spacing="1">Marina</text>
<text x="157.25" y="511.29" text-anchor="middle" font-size="13.3" textLength="13.00" lengthAdjust="spacingAndGlyphs">16</text>
<text x="196.8" y="511.29" text-anchor="middle" font-size="13.3" textLength="13.00" lengthAdjust="spacingAndGlyphs">28</text>
<text x="236.5" y="511.29" text-anchor="middle" font-size="13.3" textLength="6.50" lengthAdjust="spacingAndGlyphs">1</text>
<text x="276.1" y="511.29" text-anchor="middle" font-size="13.3" textLength="13.00" lengthAdjust="spacingAndGlyphs">35</text>
<text x="315.55" y="511.29" text-anchor="middle" font-size="13.3" textLength="6.50" lengthAdjust="spacingAndGlyphs">8</text>
<text x="355.05" y="511.29" text-anchor="middle" font-size="13.3" textLength="6.50" lengthAdjust="spacingAndGlyphs">0</text>
<text x="394.1" y="511.29" text-anchor="middle" font-size="13.3" textLength="6.50" lengthAdjust="spacingAndGlyphs">8</text>
<text x="440.35" y="511.29" text-anchor="middle" font-size="13.3" textLength="26.00" lengthAdjust="spacingAndGlyphs">1201</text>
<text x="494.35" y="511.29" text-anchor="middle" font-size="13.3" textLength="26.00" lengthAdjust="spacingAndGlyphs">1224</text>
<text x="548.2" y="511.29" text-anchor="middle" font-size="13.3" textLength="17.34" lengthAdjust="spacingAndGlyphs">-23</text>
<text x="601.9" y="511.29" text-anchor="middle" font-size="13.3" textLength="19.50" lengthAdjust="spacingAndGlyphs">105</text>
<text x="14.4" y="528.93" font-size="13.3" textLength="55.00" lengthAdjust="spacingAndGlyphs" word-spacing="1">Shaldon B</text>
<text x="157.25" y="528.93" text-anchor="middle" font-size="13.3" textLength="13.00" lengthAdjust="spacingAndGlyphs">16</text>
<text x="196.8" y="528.93" text-anchor="middle" font-size="13.3" textLength="13.00" lengthAdjust="spacingAndGlyphs">26</text>
<text x="236.5" y="528.93" text-anchor="middle" font-size="13.3" textLength="6.50" lengthAdjust="spacingAndGlyphs">2</text>
<text x="276.1" y="528.93" text-anchor="middle" font-size="13.3" textLength="13.00" lengthAdjust="spacingAndGlyphs">36</text>
<text x="315.55" y="528.93" text-anchor="middle" font-size="13.3" textLength="6.50" lengthAdjust="spacingAndGlyphs">7</text>
<text x="355.05" y="528.93" text-anchor="middle" font-size="13.3" textLength="6.50" lengthAdjust="spacingAndGlyphs">0</text>
<text x="394.1" y="528.93" text-anchor="middle" font-size="13.3" textLength="6.50" lengthAdjust="spacingAndGlyphs">9</text>
<text x="440.35" y="528.93" text-anchor="middle" font-size="13.3" textLength="25.30" lengthAdjust="spacingAndGlyphs">1190</text>
<text x="494.35" y="528.93" text-anchor="middle" font-size="13.3" textLength="26.00" lengthAdjust="spacingAndGlyphs">1247</text>
<text x="548.2" y="528.93" text-anchor="middle" font-size="13.3" textLength="17.34" lengthAdjust="spacingAndGlyphs">-57</text>
<text x="601.9" y="528.93" text-anchor="middle" font-size="13.3" textLength="13.00" lengthAdjust="spacingAndGlyphs">96</text>
<text x="14.4" y="546.56" font-size="13.3" textLength="88.00" lengthAdjust="spacingAndGlyphs" word-spacing="1">Buckfastleigh A</text>
<text x="157.25" y="546.56" text-anchor="middle" font-size="13.3" textLength="13.00" lengthAdjust="spacingAndGlyphs">16</text>
<text x="196.8" y="546.56" text-anchor="middle" font-size="13.3" textLength="13.00" lengthAdjust="spacingAndGlyphs">28</text>
<text x="236.5" y="546.56" text-anchor="middle" font-size="13.3" textLength="6.50" lengthAdjust="spacingAndGlyphs">4</text>
<text x="276.1" y="546.56" text-anchor="middle" font-size="13.3" textLength="13.00" lengthAdjust="spacingAndGlyphs">32</text>
<text x="315.55" y="546.56" text-anchor="middle" font-size="13.3" textLength="6.50" lengthAdjust="spacingAndGlyphs">7</text>
<text x="355.05" y="546.56" text-anchor="middle" font-size="13.3" textLength="6.50" lengthAdjust="spacingAndGlyphs">0</text>
<text x="394.1" y="546.56" text-anchor="middle" font-size="13.3" textLength="6.50" lengthAdjust="spacingAndGlyphs">9</text>
<text x="440.35" y="546.56" text-anchor="middle" font-size="13.3" textLength="25.30" lengthAdjust="spacingAndGlyphs">1125</text>
<text x="494.35" y="546.56" text-anchor="middle" font-size="13.3" textLength="26.00" lengthAdjust="spacingAndGlyphs">1243</text>
<text x="548.2" y="546.56" text-anchor="middle" font-size="13.3" textLength="23.12" lengthAdjust="spacingAndGlyphs">-118</text>
<text x="601.9" y="546.56" text-anchor="middle" font-size="13.3" textLength="19.50" lengthAdjust="spacingAndGlyphs">96*</text>
<text x="14.4" y="564.2" fill="#FF0000" stroke="#FF0000" font-size="13.3" textLength="56.00" lengthAdjust="spacingAndGlyphs" word-spacing="1">Chudleigh</text>
<text x="157.25" y="564.2" text-anchor="middle" fill="#FF0000" stroke="#FF0000" font-size="13.3" textLength="13.00" lengthAdjust="spacingAndGlyphs">16</text>
<text x="196.8" y="564.2" text-anchor="middle" fill="#FF0000" stroke="#FF0000" font-size="13.3" textLength="13.00" lengthAdjust="spacingAndGlyphs">24</text>
<text x="236.5" y="564.2" text-anchor="middle" fill="#FF0000" stroke="#FF0000" font-size="13.3" textLength="6.50" lengthAdjust="spacingAndGlyphs">3</text>
<text x="276.1" y="564.2" text-anchor="middle" fill="#FF0000" stroke="#FF0000" font-size="13.3" textLength="13.00" lengthAdjust="spacingAndGlyphs">37</text>
<text x="315.55" y="564.2" text-anchor="middle" fill="#FF0000" stroke="#FF0000" font-size="13.3" textLength="6.50" lengthAdjust="spacingAndGlyphs">4</text>
<text x="355.05" y="564.2" text-anchor="middle" fill="#FF0000" stroke="#FF0000" font-size="13.3" textLength="6.50" lengthAdjust="spacingAndGlyphs">0</text>
<text x="394.1" y="564.2" text-anchor="middle" fill="#FF0000" stroke="#FF0000" font-size="13.3" textLength="13.00" lengthAdjust="spacingAndGlyphs">12</text>
<text x="440.35" y="564.2" text-anchor="middle" fill="#FF0000" stroke="#FF0000" font-size="13.3" textLength="25.30" lengthAdjust="spacingAndGlyphs">1122</text>
<text x="494.35" y="564.2" text-anchor="middle" fill="#FF0000" stroke="#FF0000" font-size="13.3" textLength="26.00" lengthAdjust="spacingAndGlyphs">1286</text>
<text x="548.2" y="564.2" text-anchor="middle" fill="#FF0000" stroke="#FF0000" font-size="13.3" textLength="23.84" lengthAdjust="spacingAndGlyphs">-164</text>
<text x="601.9" y="564.2" text-anchor="middle" fill="#FF0000" stroke="#FF0000" font-size="13.3" textLength="13.00" lengthAdjust="spacingAndGlyphs">75</text>
<text x="14.4" y="581.84" fill="#FF0000" stroke="#FF0000" font-size="13.3" textLength="50.90" lengthAdjust="spacingAndGlyphs" word-spacing="1">Totnes A</text>
<text x="157.25" y="581.84" text-anchor="middle" fill="#FF0000" stroke="#FF0000" font-size="13.3" textLength="13.00" lengthAdjust="spacingAndGlyphs">16</text>
<text x="196.8" y="581.84" text-anchor="middle" fill="#FF0000" stroke="#FF0000" font-size="13.3" textLength="13.00" lengthAdjust="spacingAndGlyphs">23</text>
<text x="236.5" y="581.84" text-anchor="middle" fill="#FF0000" stroke="#FF0000" font-size="13.3" textLength="6.50" lengthAdjust="spacingAndGlyphs">2</text>
<text x="276.1" y="581.84" text-anchor="middle" fill="#FF0000" stroke="#FF0000" font-size="13.3" textLength="13.00" lengthAdjust="spacingAndGlyphs">39</text>
<text x="315.55" y="581.84" text-anchor="middle" fill="#FF0000" stroke="#FF0000" font-size="13.3" textLength="6.50" lengthAdjust="spacingAndGlyphs">4</text>
<text x="355.05" y="581.84" text-anchor="middle" fill="#FF0000" stroke="#FF0000" font-size="13.3" textLength="6.50" lengthAdjust="spacingAndGlyphs">0</text>
<text x="394.1" y="581.84" text-anchor="middle" fill="#FF0000" stroke="#FF0000" font-size="13.3" textLength="13.00" lengthAdjust="spacingAndGlyphs">12</text>
<text x="440.35" y="581.84" text-anchor="middle" fill="#FF0000" stroke="#FF0000" font-size="13.3" textLength="25.30" lengthAdjust="spacingAndGlyphs">1141</text>
<text x="494.35" y="581.84" text-anchor="middle" fill="#FF0000" stroke="#FF0000" font-size="13.3" textLength="26.00" lengthAdjust="spacingAndGlyphs">1380</text>
<text x="548.2" y="581.84" text-anchor="middle" fill="#FF0000" stroke="#FF0000" font-size="13.3" textLength="23.84" lengthAdjust="spacingAndGlyphs">-239</text>
<text x="601.9" y="581.84" text-anchor="middle" fill="#FF0000" stroke="#FF0000" font-size="13.3" textLength="13.00" lengthAdjust="spacingAndGlyphs">72</text>
<text x="74.7" y="601.07" text-anchor="middle" font-size="13.8" textLength="79.30" lengthAdjust="spacingAndGlyphs">Third Division</text>
<text x="157.25" y="601.07" text-anchor="middle" font-size="13.8" textLength="11.56" lengthAdjust="spacingAndGlyphs">Pl</text>
<text x="196.8" y="601.07" text-anchor="middle" font-size="13.8" textLength="13.00" lengthAdjust="spacingAndGlyphs">W</text>
<text x="236.5" y="601.07" text-anchor="middle" font-size="13.8" textLength="9.39" lengthAdjust="spacingAndGlyphs">D</text>
<text x="276.1" y="601.07" text-anchor="middle" font-size="13.8" textLength="8.67" lengthAdjust="spacingAndGlyphs">L</text>
<text x="315.55" y="601.07" text-anchor="middle" font-size="13.8" textLength="13.00" lengthAdjust="spacingAndGlyphs">W</text>
<text x="355.05" y="601.07" text-anchor="middle" font-size="13.8" textLength="9.39" lengthAdjust="spacingAndGlyphs">D</text>
<text x="394.1" y="601.07" text-anchor="middle" font-size="13.8" textLength="8.67" lengthAdjust="spacingAndGlyphs">L</text>
<text x="440.35" y="601.07" text-anchor="middle" font-size="13.8" textLength="20.22" lengthAdjust="spacingAndGlyphs">For</text>
<text x="494.35" y="601.07" text-anchor="middle" font-size="13.8" textLength="42.62" lengthAdjust="spacingAndGlyphs">Against</text>
<text x="548.2" y="601.07" text-anchor="middle" font-size="13.8" textLength="21.67" lengthAdjust="spacingAndGlyphs">Diff</text>
<text x="601.9" y="601.07" text-anchor="middle" font-size="13.8" textLength="17.34" lengthAdjust="spacingAndGlyphs">Pts</text>
<text x="14.4" y="617.77" fill="#00B050" stroke="#00B050" font-size="13.3" textLength="42.80" lengthAdjust="spacingAndGlyphs" word-spacing="1">Victoria</text>
<text x="157.25" y="617.77" text-anchor="middle" fill="#00B050" stroke="#00B050" font-size="13.3" textLength="13.00" lengthAdjust="spacingAndGlyphs">16</text>
<text x="196.8" y="617.77" text-anchor="middle" fill="#00B050" stroke="#00B050" font-size="13.3" textLength="13.00" lengthAdjust="spacingAndGlyphs">38</text>
<text x="236.5" y="617.77" text-anchor="middle" fill="#00B050" stroke="#00B050" font-size="13.3" textLength="6.50" lengthAdjust="spacingAndGlyphs">1</text>
<text x="276.1" y="617.77" text-anchor="middle" fill="#00B050" stroke="#00B050" font-size="13.3" textLength="13.00" lengthAdjust="spacingAndGlyphs">25</text>
<text x="315.55" y="617.77" text-anchor="middle" fill="#00B050" stroke="#00B050" font-size="13.3" textLength="13.00" lengthAdjust="spacingAndGlyphs">12</text>
<text x="355.05" y="617.77" text-anchor="middle" fill="#00B050" stroke="#00B050" font-size="13.3" textLength="6.50" lengthAdjust="spacingAndGlyphs">1</text>
<text x="394.1" y="617.77" text-anchor="middle" fill="#00B050" stroke="#00B050" font-size="13.3" textLength="6.50" lengthAdjust="spacingAndGlyphs">3</text>
<text x="440.35" y="617.77" text-anchor="middle" fill="#00B050" stroke="#00B050" font-size="13.3" textLength="26.00" lengthAdjust="spacingAndGlyphs">1326</text>
<text x="494.35" y="617.77" text-anchor="middle" fill="#00B050" stroke="#00B050" font-size="13.3" textLength="25.30" lengthAdjust="spacingAndGlyphs">1140</text>
<text x="548.2" y="617.77" text-anchor="middle" fill="#00B050" stroke="#00B050" font-size="13.3" textLength="19.50" lengthAdjust="spacingAndGlyphs">186</text>
<text x="601.9" y="617.77" text-anchor="middle" fill="#00B050" stroke="#00B050" font-size="13.3" textLength="19.50" lengthAdjust="spacingAndGlyphs">152</text>
<text x="14.4" y="635.41" fill="#00B050" stroke="#00B050" font-size="13.3" textLength="48.50" lengthAdjust="spacingAndGlyphs" word-spacing="1">TCBC B</text>
<text x="157.25" y="635.41" text-anchor="middle" fill="#00B050" stroke="#00B050" font-size="13.3" textLength="13.00" lengthAdjust="spacingAndGlyphs">16</text>
<text x="196.8" y="635.41" text-anchor="middle" fill="#00B050" stroke="#00B050" font-size="13.3" textLength="13.00" lengthAdjust="spacingAndGlyphs">39</text>
<text x="236.5" y="635.41" text-anchor="middle" fill="#00B050" stroke="#00B050" font-size="13.3" textLength="6.50" lengthAdjust="spacingAndGlyphs">1</text>
<text x="276.1" y="635.41" text-anchor="middle" fill="#00B050" stroke="#00B050" font-size="13.3" textLength="13.00" lengthAdjust="spacingAndGlyphs">24</text>
<text x="315.55" y="635.41" text-anchor="middle" fill="#00B050" stroke="#00B050" font-size="13.3" textLength="12.30" lengthAdjust="spacingAndGlyphs">11</text>
<text x="355.05" y="635.41" text-anchor="middle" fill="#00B050" stroke="#00B050" font-size="13.3" textLength="6.50" lengthAdjust="spacingAndGlyphs">1</text>
<text x="394.1" y="635.41" text-anchor="middle" fill="#00B050" stroke="#00B050" font-size="13.3" textLength="6.50" lengthAdjust="spacingAndGlyphs">4</text>
<text x="440.35" y="635.41" text-anchor="middle" fill="#00B050" stroke="#00B050" font-size="13.3" textLength="26.00" lengthAdjust="spacingAndGlyphs">1348</text>
<text x="494.35" y="635.41" text-anchor="middle" fill="#00B050" stroke="#00B050" font-size="13.3" textLength="41.55" lengthAdjust="spacingAndGlyphs">1154.75</text>
<text x="548.2" y="635.41" text-anchor="middle" fill="#00B050" stroke="#00B050" font-size="13.3" textLength="35.75" lengthAdjust="spacingAndGlyphs">193.25</text>
<text x="601.9" y="635.41" text-anchor="middle" fill="#00B050" stroke="#00B050" font-size="13.3" textLength="19.50" lengthAdjust="spacingAndGlyphs">148</text>
<text x="14.4" y="653.04" font-size="13.3" textLength="57.40" lengthAdjust="spacingAndGlyphs" word-spacing="1">Torquay B</text>
<text x="157.25" y="653.04" text-anchor="middle" font-size="13.3" textLength="13.00" lengthAdjust="spacingAndGlyphs">16</text>
<text x="196.8" y="653.04" text-anchor="middle" font-size="13.3" textLength="13.00" lengthAdjust="spacingAndGlyphs">38</text>
<text x="236.5" y="653.04" text-anchor="middle" font-size="13.3" textLength="6.50" lengthAdjust="spacingAndGlyphs">2</text>
<text x="276.1" y="653.04" text-anchor="middle" font-size="13.3" textLength="13.00" lengthAdjust="spacingAndGlyphs">24</text>
<text x="315.55" y="653.04" text-anchor="middle" font-size="13.3" textLength="12.30" lengthAdjust="spacingAndGlyphs">11</text>
<text x="355.05" y="653.04" text-anchor="middle" font-size="13.3" textLength="6.50" lengthAdjust="spacingAndGlyphs">0</text>
<text x="394.1" y="653.04" text-anchor="middle" font-size="13.3" textLength="6.50" lengthAdjust="spacingAndGlyphs">5</text>
<text x="440.35" y="653.04" text-anchor="middle" font-size="13.3" textLength="26.00" lengthAdjust="spacingAndGlyphs">1397</text>
<text x="494.35" y="653.04" text-anchor="middle" font-size="13.3" textLength="25.30" lengthAdjust="spacingAndGlyphs">1145</text>
<text x="548.2" y="653.04" text-anchor="middle" font-size="13.3" textLength="19.50" lengthAdjust="spacingAndGlyphs">252</text>
<text x="601.9" y="653.04" text-anchor="middle" font-size="13.3" textLength="19.50" lengthAdjust="spacingAndGlyphs">144</text>
<text x="14.4" y="670.68" font-size="13.3" textLength="97.40" lengthAdjust="spacingAndGlyphs" word-spacing="1">Kingsbridge Park</text>
<text x="157.25" y="670.68" text-anchor="middle" font-size="13.3" textLength="13.00" lengthAdjust="spacingAndGlyphs">16</text>
<text x="196.8" y="670.68" text-anchor="middle" font-size="13.3" textLength="13.00" lengthAdjust="spacingAndGlyphs">35</text>
<text x="236.5" y="670.68" text-anchor="middle" font-size="13.3" textLength="6.50" lengthAdjust="spacingAndGlyphs">2</text>
<text x="276.1" y="670.68" text-anchor="middle" font-size="13.3" textLength="13.00" lengthAdjust="spacingAndGlyphs">27</text>
<text x="315.55" y="670.68" text-anchor="middle" font-size="13.3" textLength="13.00" lengthAdjust="spacingAndGlyphs">10</text>
<text x="355.05" y="670.68" text-anchor="middle" font-size="13.3" textLength="6.50" lengthAdjust="spacingAndGlyphs">0</text>
<text x="394.1" y="670.68" text-anchor="middle" font-size="13.3" textLength="6.50" lengthAdjust="spacingAndGlyphs">6</text>
<text x="440.35" y="670.68" text-anchor="middle" font-size="13.3" textLength="26.00" lengthAdjust="spacingAndGlyphs">1265</text>
<text x="494.35" y="670.68" text-anchor="middle" font-size="13.3" textLength="35.75" lengthAdjust="spacingAndGlyphs">1225.5</text>
<text x="548.2" y="670.68" text-anchor="middle" font-size="13.3" textLength="22.75" lengthAdjust="spacingAndGlyphs">39.5</text>
<text x="601.9" y="670.68" text-anchor="middle" font-size="13.3" textLength="19.50" lengthAdjust="spacingAndGlyphs">132</text>
<text x="14.4" y="688.32" font-size="13.3" textLength="83.10" lengthAdjust="spacingAndGlyphs" word-spacing="1">Babbacombe B</text>
<text x="157.25" y="688.32" text-anchor="middle" font-size="13.3" textLength="13.00" lengthAdjust="spacingAndGlyphs">16</text>
<text x="196.8" y="688.32" text-anchor="middle" font-size="13.3" textLength="13.00" lengthAdjust="spacingAndGlyphs">29</text>
<text x="236.5" y="688.32" text-anchor="middle" font-size="13.3" textLength="6.50" lengthAdjust="spacingAndGlyphs">6</text>
<text x="276.1" y="688.32" text-anchor="middle" font-size="13.3" textLength="13.00" lengthAdjust="spacingAndGlyphs">29</text>
<text x="315.55" y="688.32" text-anchor="middle" font-size="13.3" textLength="6.50" lengthAdjust="spacingAndGlyphs">9</text>
<text x="355.05" y="688.32" text-anchor="middle" font-size="13.3" textLength="6.50" lengthAdjust="spacingAndGlyphs">1</text>
<text x="394.1" y="688.32" text-anchor="middle" font-size="13.3" textLength="6.50" lengthAdjust="spacingAndGlyphs">6</text>
<text x="440.35" y="688.32" text-anchor="middle" font-size="13.3" textLength="41.55" lengthAdjust="spacingAndGlyphs">1196.25</text>
<text x="494.35" y="688.32" text-anchor="middle" font-size="13.3" textLength="35.05" lengthAdjust="spacingAndGlyphs">1161.5</text>
<text x="548.2" y="688.32" text-anchor="middle" font-size="13.3" textLength="29.25" lengthAdjust="spacingAndGlyphs">34.75</text>
<text x="601.9" y="688.32" text-anchor="middle" font-size="13.3" textLength="19.50" lengthAdjust="spacingAndGlyphs">121</text>
<text x="14.4" y="705.95" font-size="13.3" textLength="63.20" lengthAdjust="spacingAndGlyphs" word-spacing="1">Upton Park</text>
<text x="157.25" y="705.95" text-anchor="middle" font-size="13.3" textLength="13.00" lengthAdjust="spacingAndGlyphs">16</text>
<text x="196.8" y="705.95" text-anchor="middle" font-size="13.3" textLength="13.00" lengthAdjust="spacingAndGlyphs">25</text>
<text x="236.5" y="705.95" text-anchor="middle" font-size="13.3" textLength="6.50" lengthAdjust="spacingAndGlyphs">2</text>
<text x="276.1" y="705.95" text-anchor="middle" font-size="13.3" textLength="13.00" lengthAdjust="spacingAndGlyphs">37</text>
<text x="315.55" y="705.95" text-anchor="middle" font-size="13.3" textLength="6.50" lengthAdjust="spacingAndGlyphs">8</text>
<text x="355.05" y="705.95" text-anchor="middle" font-size="13.3" textLength="6.50" lengthAdjust="spacingAndGlyphs">0</text>
<text x="394.1" y="705.95" text-anchor="middle" font-size="13.3" textLength="6.50" lengthAdjust="spacingAndGlyphs">8</text>
<text x="440.35" y="705.95" text-anchor="middle" font-size="13.3" textLength="41.55" lengthAdjust="spacingAndGlyphs">1173.75</text>
<text x="494.35" y="705.95" text-anchor="middle" font-size="13.3" textLength="26.00" lengthAdjust="spacingAndGlyphs">1278</text>
<text x="548.2" y="705.95" text-anchor="middle" font-size="11.5" textLength="31" lengthAdjust="spacingAndGlyphs">-104.25</text>
<text x="601.9" y="705.95" text-anchor="middle" font-size="13.3" textLength="19.50" lengthAdjust="spacingAndGlyphs">100</text>
<text x="14.4" y="723.59" font-size="13.3" textLength="102.30" lengthAdjust="spacingAndGlyphs" word-spacing="1">Paignton Torbay B</text>
<text x="157.25" y="723.59" text-anchor="middle" font-size="13.3" textLength="13.00" lengthAdjust="spacingAndGlyphs">16</text>
<text x="196.8" y="723.59" text-anchor="middle" font-size="13.3" textLength="13.00" lengthAdjust="spacingAndGlyphs">25</text>
<text x="236.5" y="723.59" text-anchor="middle" font-size="13.3" textLength="6.50" lengthAdjust="spacingAndGlyphs">2</text>
<text x="276.1" y="723.59" text-anchor="middle" font-size="13.3" textLength="13.00" lengthAdjust="spacingAndGlyphs">37</text>
<text x="315.55" y="723.59" text-anchor="middle" font-size="13.3" textLength="6.50" lengthAdjust="spacingAndGlyphs">5</text>
<text x="355.05" y="723.59" text-anchor="middle" font-size="13.3" textLength="6.50" lengthAdjust="spacingAndGlyphs">0</text>
<text x="394.1" y="723.59" text-anchor="middle" font-size="13.3" textLength="12.30" lengthAdjust="spacingAndGlyphs">11</text>
<text x="440.35" y="723.59" text-anchor="middle" font-size="13.3" textLength="25.30" lengthAdjust="spacingAndGlyphs">1132</text>
<text x="494.35" y="723.59" text-anchor="middle" font-size="13.3" textLength="26.00" lengthAdjust="spacingAndGlyphs">1239</text>
<text x="548.2" y="723.59" text-anchor="middle" font-size="13.3" textLength="23.84" lengthAdjust="spacingAndGlyphs">-107</text>
<text x="601.9" y="723.59" text-anchor="middle" font-size="13.3" textLength="13.00" lengthAdjust="spacingAndGlyphs">82</text>
<text x="14.4" y="741.22" fill="#FF0000" stroke="#FF0000" font-size="13.3" textLength="48.50" lengthAdjust="spacingAndGlyphs" word-spacing="1">TCBC C</text>
<text x="157.25" y="741.22" text-anchor="middle" fill="#FF0000" stroke="#FF0000" font-size="13.3" textLength="13.00" lengthAdjust="spacingAndGlyphs">16</text>
<text x="196.8" y="741.22" text-anchor="middle" fill="#FF0000" stroke="#FF0000" font-size="13.3" textLength="13.00" lengthAdjust="spacingAndGlyphs">26</text>
<text x="236.5" y="741.22" text-anchor="middle" fill="#FF0000" stroke="#FF0000" font-size="13.3" textLength="6.50" lengthAdjust="spacingAndGlyphs">3</text>
<text x="276.1" y="741.22" text-anchor="middle" fill="#FF0000" stroke="#FF0000" font-size="13.3" textLength="13.00" lengthAdjust="spacingAndGlyphs">35</text>
<text x="315.55" y="741.22" text-anchor="middle" fill="#FF0000" stroke="#FF0000" font-size="13.3" textLength="6.50" lengthAdjust="spacingAndGlyphs">3</text>
<text x="355.05" y="741.22" text-anchor="middle" fill="#FF0000" stroke="#FF0000" font-size="13.3" textLength="6.50" lengthAdjust="spacingAndGlyphs">1</text>
<text x="394.1" y="741.22" text-anchor="middle" fill="#FF0000" stroke="#FF0000" font-size="13.3" textLength="13.00" lengthAdjust="spacingAndGlyphs">12</text>
<text x="440.35" y="741.22" text-anchor="middle" fill="#FF0000" stroke="#FF0000" font-size="13.3" textLength="35.05" lengthAdjust="spacingAndGlyphs">1131.5</text>
<text x="494.35" y="741.22" text-anchor="middle" fill="#FF0000" stroke="#FF0000" font-size="13.3" textLength="26.00" lengthAdjust="spacingAndGlyphs">1345</text>
<text x="548.2" y="741.22" text-anchor="middle" fill="#FF0000" stroke="#FF0000" font-size="13.3" textLength="33.59" lengthAdjust="spacingAndGlyphs">-213.5</text>
<text x="601.9" y="741.22" text-anchor="middle" fill="#FF0000" stroke="#FF0000" font-size="13.3" textLength="13.00" lengthAdjust="spacingAndGlyphs">76</text>
<text x="14.4" y="758.86" fill="#FF0000" stroke="#FF0000" font-size="13.3" textLength="60.30" lengthAdjust="spacingAndGlyphs" word-spacing="1">Paignton C</text>
<text x="157.25" y="758.86" text-anchor="middle" fill="#FF0000" stroke="#FF0000" font-size="13.3" textLength="13.00" lengthAdjust="spacingAndGlyphs">16</text>
<text x="196.8" y="758.86" text-anchor="middle" fill="#FF0000" stroke="#FF0000" font-size="13.3" textLength="13.00" lengthAdjust="spacingAndGlyphs">21</text>
<text x="236.5" y="758.86" text-anchor="middle" fill="#FF0000" stroke="#FF0000" font-size="13.3" textLength="6.50" lengthAdjust="spacingAndGlyphs">5</text>
<text x="276.1" y="758.86" text-anchor="middle" fill="#FF0000" stroke="#FF0000" font-size="13.3" textLength="13.00" lengthAdjust="spacingAndGlyphs">38</text>
<text x="315.55" y="758.86" text-anchor="middle" fill="#FF0000" stroke="#FF0000" font-size="13.3" textLength="6.50" lengthAdjust="spacingAndGlyphs">1</text>
<text x="355.05" y="758.86" text-anchor="middle" fill="#FF0000" stroke="#FF0000" font-size="13.3" textLength="6.50" lengthAdjust="spacingAndGlyphs">0</text>
<text x="394.1" y="758.86" text-anchor="middle" fill="#FF0000" stroke="#FF0000" font-size="13.3" textLength="13.00" lengthAdjust="spacingAndGlyphs">15</text>
<text x="440.35" y="758.86" text-anchor="middle" fill="#FF0000" stroke="#FF0000" font-size="13.3" textLength="26.00" lengthAdjust="spacingAndGlyphs">1091</text>
<text x="494.35" y="758.86" text-anchor="middle" fill="#FF0000" stroke="#FF0000" font-size="13.3" textLength="42.25" lengthAdjust="spacingAndGlyphs">1371.75</text>
<text x="548.2" y="758.86" text-anchor="middle" fill="#FF0000" stroke="#FF0000" font-size="13.3" textLength="40.09" lengthAdjust="spacingAndGlyphs">-280.75</text>
<text x="601.9" y="758.86" text-anchor="middle" fill="#FF0000" stroke="#FF0000" font-size="13.3" textLength="19.50" lengthAdjust="spacingAndGlyphs">49*</text>
<text x="74.7" y="778.1" text-anchor="middle" font-size="13.8" textLength="86.00" lengthAdjust="spacingAndGlyphs">Fourth Division</text>
<text x="157.25" y="778.1" text-anchor="middle" font-size="13.8" textLength="11.56" lengthAdjust="spacingAndGlyphs">Pl</text>
<text x="196.8" y="778.1" text-anchor="middle" font-size="13.8" textLength="13.00" lengthAdjust="spacingAndGlyphs">W</text>
<text x="236.5" y="778.1" text-anchor="middle" font-size="13.8" textLength="9.39" lengthAdjust="spacingAndGlyphs">D</text>
<text x="276.1" y="778.1" text-anchor="middle" font-size="13.8" textLength="8.67" lengthAdjust="spacingAndGlyphs">L</text>
<text x="315.55" y="778.1" text-anchor="middle" font-size="13.8" textLength="13.00" lengthAdjust="spacingAndGlyphs">W</text>
<text x="355.05" y="778.1" text-anchor="middle" font-size="13.8" textLength="9.39" lengthAdjust="spacingAndGlyphs">D</text>
<text x="394.1" y="778.1" text-anchor="middle" font-size="13.8" textLength="8.67" lengthAdjust="spacingAndGlyphs">L</text>
<text x="440.35" y="778.1" text-anchor="middle" font-size="13.8" textLength="20.22" lengthAdjust="spacingAndGlyphs">For</text>
<text x="494.35" y="778.1" text-anchor="middle" font-size="13.8" textLength="42.62" lengthAdjust="spacingAndGlyphs">Against</text>
<text x="548.2" y="778.1" text-anchor="middle" font-size="13.8" textLength="21.67" lengthAdjust="spacingAndGlyphs">Diff</text>
<text x="601.9" y="778.1" text-anchor="middle" font-size="13.8" textLength="17.34" lengthAdjust="spacingAndGlyphs">Pts</text>
<text x="14.4" y="794.8" fill="#00B050" stroke="#00B050" font-size="13.3" textLength="76.40" lengthAdjust="spacingAndGlyphs" word-spacing="1">Bitton Park B</text>
<text x="157.25" y="794.8" text-anchor="middle" fill="#00B050" stroke="#00B050" font-size="13.3" textLength="13.00" lengthAdjust="spacingAndGlyphs">14</text>
<text x="196.8" y="794.8" text-anchor="middle" fill="#00B050" stroke="#00B050" font-size="13.3" textLength="13.00" lengthAdjust="spacingAndGlyphs">47</text>
<text x="236.5" y="794.8" text-anchor="middle" fill="#00B050" stroke="#00B050" font-size="13.3" textLength="6.50" lengthAdjust="spacingAndGlyphs">1</text>
<text x="276.1" y="794.8" text-anchor="middle" fill="#00B050" stroke="#00B050" font-size="13.3" textLength="6.50" lengthAdjust="spacingAndGlyphs">8</text>
<text x="315.55" y="794.8" text-anchor="middle" fill="#00B050" stroke="#00B050" font-size="13.3" textLength="13.00" lengthAdjust="spacingAndGlyphs">14</text>
<text x="355.05" y="794.8" text-anchor="middle" fill="#00B050" stroke="#00B050" font-size="13.3" textLength="6.50" lengthAdjust="spacingAndGlyphs">0</text>
<text x="394.1" y="794.8" text-anchor="middle" fill="#00B050" stroke="#00B050" font-size="13.3" textLength="6.50" lengthAdjust="spacingAndGlyphs">0</text>
<text x="440.35" y="794.8" text-anchor="middle" fill="#00B050" stroke="#00B050" font-size="13.3" textLength="26.00" lengthAdjust="spacingAndGlyphs">1274</text>
<text x="494.35" y="794.8" text-anchor="middle" fill="#00B050" stroke="#00B050" font-size="13.3" textLength="29.25" lengthAdjust="spacingAndGlyphs">851.5</text>
<text x="548.2" y="794.8" text-anchor="middle" fill="#00B050" stroke="#00B050" font-size="13.3" textLength="29.25" lengthAdjust="spacingAndGlyphs">422.5</text>
<text x="601.9" y="794.8" text-anchor="middle" fill="#00B050" stroke="#00B050" font-size="13.3" textLength="19.50" lengthAdjust="spacingAndGlyphs">179</text>
<text x="14.4" y="812.43" fill="#00B050" stroke="#00B050" font-size="13.3" textLength="59.50" lengthAdjust="spacingAndGlyphs" word-spacing="1">Marldon B</text>
<text x="157.25" y="812.43" text-anchor="middle" fill="#00B050" stroke="#00B050" font-size="13.3" textLength="13.00" lengthAdjust="spacingAndGlyphs">14</text>
<text x="196.8" y="812.43" text-anchor="middle" fill="#00B050" stroke="#00B050" font-size="13.3" textLength="13.00" lengthAdjust="spacingAndGlyphs">27</text>
<text x="236.5" y="812.43" text-anchor="middle" fill="#00B050" stroke="#00B050" font-size="13.3" textLength="6.50" lengthAdjust="spacingAndGlyphs">6</text>
<text x="276.1" y="812.43" text-anchor="middle" fill="#00B050" stroke="#00B050" font-size="13.3" textLength="13.00" lengthAdjust="spacingAndGlyphs">23</text>
<text x="315.55" y="812.43" text-anchor="middle" fill="#00B050" stroke="#00B050" font-size="13.3" textLength="6.50" lengthAdjust="spacingAndGlyphs">8</text>
<text x="355.05" y="812.43" text-anchor="middle" fill="#00B050" stroke="#00B050" font-size="13.3" textLength="6.50" lengthAdjust="spacingAndGlyphs">0</text>
<text x="394.1" y="812.43" text-anchor="middle" fill="#00B050" stroke="#00B050" font-size="13.3" textLength="6.50" lengthAdjust="spacingAndGlyphs">6</text>
<text x="440.35" y="812.43" text-anchor="middle" fill="#00B050" stroke="#00B050" font-size="13.3" textLength="25.30" lengthAdjust="spacingAndGlyphs">1109</text>
<text x="494.35" y="812.43" text-anchor="middle" fill="#00B050" stroke="#00B050" font-size="13.3" textLength="19.50" lengthAdjust="spacingAndGlyphs">995</text>
<text x="548.2" y="812.43" text-anchor="middle" fill="#00B050" stroke="#00B050" font-size="13.3" textLength="18.80" lengthAdjust="spacingAndGlyphs">114</text>
<text x="601.9" y="812.43" text-anchor="middle" fill="#00B050" stroke="#00B050" font-size="13.3" textLength="19.50" lengthAdjust="spacingAndGlyphs">108</text>
<text x="14.4" y="830.07" font-size="13.3" textLength="91.30" lengthAdjust="spacingAndGlyphs" word-spacing="1">Newton Abbot C</text>
<text x="157.25" y="830.07" text-anchor="middle" font-size="13.3" textLength="13.00" lengthAdjust="spacingAndGlyphs">14</text>
<text x="196.8" y="830.07" text-anchor="middle" font-size="13.3" textLength="13.00" lengthAdjust="spacingAndGlyphs">27</text>
<text x="236.5" y="830.07" text-anchor="middle" font-size="13.3" textLength="6.50" lengthAdjust="spacingAndGlyphs">0</text>
<text x="276.1" y="830.07" text-anchor="middle" font-size="13.3" textLength="13.00" lengthAdjust="spacingAndGlyphs">29</text>
<text x="315.55" y="830.07" text-anchor="middle" font-size="13.3" textLength="6.50" lengthAdjust="spacingAndGlyphs">7</text>
<text x="355.05" y="830.07" text-anchor="middle" font-size="13.3" textLength="6.50" lengthAdjust="spacingAndGlyphs">2</text>
<text x="394.1" y="830.07" text-anchor="middle" font-size="13.3" textLength="6.50" lengthAdjust="spacingAndGlyphs">5</text>
<text x="440.35" y="830.07" text-anchor="middle" font-size="13.3" textLength="26.00" lengthAdjust="spacingAndGlyphs">1053</text>
<text x="494.35" y="830.07" text-anchor="middle" font-size="13.3" textLength="35.75" lengthAdjust="spacingAndGlyphs">1056.5</text>
<text x="548.2" y="830.07" text-anchor="middle" font-size="13.3" textLength="20.59" lengthAdjust="spacingAndGlyphs">-3.5</text>
<text x="601.9" y="830.07" text-anchor="middle" font-size="13.3" textLength="19.50" lengthAdjust="spacingAndGlyphs">102</text>
<text x="14.4" y="847.7" font-size="13.3" textLength="106.30" lengthAdjust="spacingAndGlyphs" word-spacing="1">Brixham St Mary B</text>
<text x="157.25" y="847.7" text-anchor="middle" font-size="13.3" textLength="13.00" lengthAdjust="spacingAndGlyphs">14</text>
<text x="196.8" y="847.7" text-anchor="middle" font-size="13.3" textLength="13.00" lengthAdjust="spacingAndGlyphs">26</text>
<text x="236.5" y="847.7" text-anchor="middle" font-size="13.3" textLength="6.50" lengthAdjust="spacingAndGlyphs">3</text>
<text x="276.1" y="847.7" text-anchor="middle" font-size="13.3" textLength="13.00" lengthAdjust="spacingAndGlyphs">27</text>
<text x="315.55" y="847.7" text-anchor="middle" font-size="13.3" textLength="6.50" lengthAdjust="spacingAndGlyphs">7</text>
<text x="355.05" y="847.7" text-anchor="middle" font-size="13.3" textLength="6.50" lengthAdjust="spacingAndGlyphs">1</text>
<text x="394.1" y="847.7" text-anchor="middle" font-size="13.3" textLength="6.50" lengthAdjust="spacingAndGlyphs">6</text>
<text x="440.35" y="847.7" text-anchor="middle" font-size="13.3" textLength="26.00" lengthAdjust="spacingAndGlyphs">1037</text>
<text x="494.35" y="847.7" text-anchor="middle" font-size="13.3" textLength="25.30" lengthAdjust="spacingAndGlyphs">1011</text>
<text x="548.2" y="847.7" text-anchor="middle" font-size="13.3" textLength="13.00" lengthAdjust="spacingAndGlyphs">26</text>
<text x="601.9" y="847.7" text-anchor="middle" font-size="13.3" textLength="19.50" lengthAdjust="spacingAndGlyphs">100</text>
<text x="14.4" y="865.34" font-size="13.3" textLength="48.50" lengthAdjust="spacingAndGlyphs" word-spacing="1">TCBC D</text>
<text x="157.25" y="865.34" text-anchor="middle" font-size="13.3" textLength="13.00" lengthAdjust="spacingAndGlyphs">14</text>
<text x="196.8" y="865.34" text-anchor="middle" font-size="13.3" textLength="13.00" lengthAdjust="spacingAndGlyphs">25</text>
<text x="236.5" y="865.34" text-anchor="middle" font-size="13.3" textLength="6.50" lengthAdjust="spacingAndGlyphs">1</text>
<text x="276.1" y="865.34" text-anchor="middle" font-size="13.3" textLength="13.00" lengthAdjust="spacingAndGlyphs">30</text>
<text x="315.55" y="865.34" text-anchor="middle" font-size="13.3" textLength="6.50" lengthAdjust="spacingAndGlyphs">5</text>
<text x="355.05" y="865.34" text-anchor="middle" font-size="13.3" textLength="6.50" lengthAdjust="spacingAndGlyphs">1</text>
<text x="394.1" y="865.34" text-anchor="middle" font-size="13.3" textLength="6.50" lengthAdjust="spacingAndGlyphs">8</text>
<text x="440.35" y="865.34" text-anchor="middle" font-size="13.3" textLength="26.00" lengthAdjust="spacingAndGlyphs">1001</text>
<text x="494.35" y="865.34" text-anchor="middle" font-size="13.3" textLength="41.55" lengthAdjust="spacingAndGlyphs">1138.75</text>
<text x="548.2" y="865.34" text-anchor="middle" font-size="13.3" textLength="40.09" lengthAdjust="spacingAndGlyphs">-137.75</text>
<text x="601.9" y="865.34" text-anchor="middle" font-size="13.3" textLength="13.00" lengthAdjust="spacingAndGlyphs">84</text>
<text x="14.4" y="882.98" font-size="13.3" textLength="50.90" lengthAdjust="spacingAndGlyphs" word-spacing="1">Totnes B</text>
<text x="157.25" y="882.98" text-anchor="middle" font-size="13.3" textLength="13.00" lengthAdjust="spacingAndGlyphs">14</text>
<text x="196.8" y="882.98" text-anchor="middle" font-size="13.3" textLength="13.00" lengthAdjust="spacingAndGlyphs">22</text>
<text x="236.5" y="882.98" text-anchor="middle" font-size="13.3" textLength="6.50" lengthAdjust="spacingAndGlyphs">2</text>
<text x="276.1" y="882.98" text-anchor="middle" font-size="13.3" textLength="13.00" lengthAdjust="spacingAndGlyphs">32</text>
<text x="315.55" y="882.98" text-anchor="middle" font-size="13.3" textLength="6.50" lengthAdjust="spacingAndGlyphs">4</text>
<text x="355.05" y="882.98" text-anchor="middle" font-size="13.3" textLength="6.50" lengthAdjust="spacingAndGlyphs">1</text>
<text x="394.1" y="882.98" text-anchor="middle" font-size="13.3" textLength="6.50" lengthAdjust="spacingAndGlyphs">9</text>
<text x="440.35" y="882.98" text-anchor="middle" font-size="13.3" textLength="26.00" lengthAdjust="spacingAndGlyphs">1000</text>
<text x="494.35" y="882.98" text-anchor="middle" font-size="13.3" textLength="26.00" lengthAdjust="spacingAndGlyphs">1061</text>
<text x="548.2" y="882.98" text-anchor="middle" font-size="13.3" textLength="17.34" lengthAdjust="spacingAndGlyphs">-61</text>
<text x="601.9" y="882.98" text-anchor="middle" font-size="13.3" textLength="13.00" lengthAdjust="spacingAndGlyphs">73</text>
<text x="14.4" y="900.61" font-size="13.3" textLength="59.10" lengthAdjust="spacingAndGlyphs" word-spacing="1">Brixham B</text>
<text x="157.25" y="900.61" text-anchor="middle" font-size="13.3" textLength="13.00" lengthAdjust="spacingAndGlyphs">14</text>
<text x="196.8" y="900.61" text-anchor="middle" font-size="13.3" textLength="13.00" lengthAdjust="spacingAndGlyphs">19</text>
<text x="236.5" y="900.61" text-anchor="middle" font-size="13.3" textLength="6.50" lengthAdjust="spacingAndGlyphs">4</text>
<text x="276.1" y="900.61" text-anchor="middle" font-size="13.3" textLength="13.00" lengthAdjust="spacingAndGlyphs">33</text>
<text x="315.55" y="900.61" text-anchor="middle" font-size="13.3" textLength="6.50" lengthAdjust="spacingAndGlyphs">5</text>
<text x="355.05" y="900.61" text-anchor="middle" font-size="13.3" textLength="6.50" lengthAdjust="spacingAndGlyphs">0</text>
<text x="394.1" y="900.61" text-anchor="middle" font-size="13.3" textLength="6.50" lengthAdjust="spacingAndGlyphs">9</text>
<text x="440.35" y="900.61" text-anchor="middle" font-size="13.3" textLength="29.25" lengthAdjust="spacingAndGlyphs">984.5</text>
<text x="494.35" y="900.61" text-anchor="middle" font-size="13.3" textLength="25.30" lengthAdjust="spacingAndGlyphs">1156</text>
<text x="548.2" y="900.61" text-anchor="middle" font-size="13.3" textLength="33.59" lengthAdjust="spacingAndGlyphs">-171.5</text>
<text x="601.9" y="900.61" text-anchor="middle" font-size="13.3" textLength="13.00" lengthAdjust="spacingAndGlyphs">72</text>
<text x="14.4" y="918.25" font-size="13.3" textLength="88.00" lengthAdjust="spacingAndGlyphs" word-spacing="1">Buckfastleigh B</text>
<text x="157.25" y="918.25" text-anchor="middle" font-size="13.3" textLength="13.00" lengthAdjust="spacingAndGlyphs">14</text>
<text x="196.8" y="918.25" text-anchor="middle" font-size="13.3" textLength="13.00" lengthAdjust="spacingAndGlyphs">21</text>
<text x="236.5" y="918.25" text-anchor="middle" font-size="13.3" textLength="6.50" lengthAdjust="spacingAndGlyphs">3</text>
<text x="276.1" y="918.25" text-anchor="middle" font-size="13.3" textLength="13.00" lengthAdjust="spacingAndGlyphs">32</text>
<text x="315.55" y="918.25" text-anchor="middle" font-size="13.3" textLength="6.50" lengthAdjust="spacingAndGlyphs">3</text>
<text x="355.05" y="918.25" text-anchor="middle" font-size="13.3" textLength="6.50" lengthAdjust="spacingAndGlyphs">1</text>
<text x="394.1" y="918.25" text-anchor="middle" font-size="13.3" textLength="13.00" lengthAdjust="spacingAndGlyphs">10</text>
<text x="440.35" y="918.25" text-anchor="middle" font-size="13.3" textLength="35.75" lengthAdjust="spacingAndGlyphs">950.25</text>
<text x="494.35" y="918.25" text-anchor="middle" font-size="13.3" textLength="25.30" lengthAdjust="spacingAndGlyphs">1139</text>
<text x="548.2" y="918.25" text-anchor="middle" font-size="13.3" textLength="40.09" lengthAdjust="spacingAndGlyphs">-188.75</text>
<text x="601.9" y="918.25" text-anchor="middle" font-size="13.3" textLength="13.00" lengthAdjust="spacingAndGlyphs">66</text>
<text x="236.4" y="51.5" text-anchor="middle" font-size="13.8" textLength="32.53" lengthAdjust="spacingAndGlyphs">Rinks</text>
<text x="354.6" y="51.5" text-anchor="middle" font-size="13.8" textLength="46.94" lengthAdjust="spacingAndGlyphs">Matches</text>
<text x="467.4" y="51.5" text-anchor="middle" font-size="13.8" textLength="30.36" lengthAdjust="spacingAndGlyphs">Shots</text>
</g>
</svg>
<div class="note"><span>*Both Kings in Division 1 and Buckfastleigh A in Division 2 have each been deducted 6 points and Paignton C in Division</span><span class="l2">3 has been deducted 4 points all for breach of MDL rule 11 for playing an unregistered player.</span></div>
</body>
</html>
